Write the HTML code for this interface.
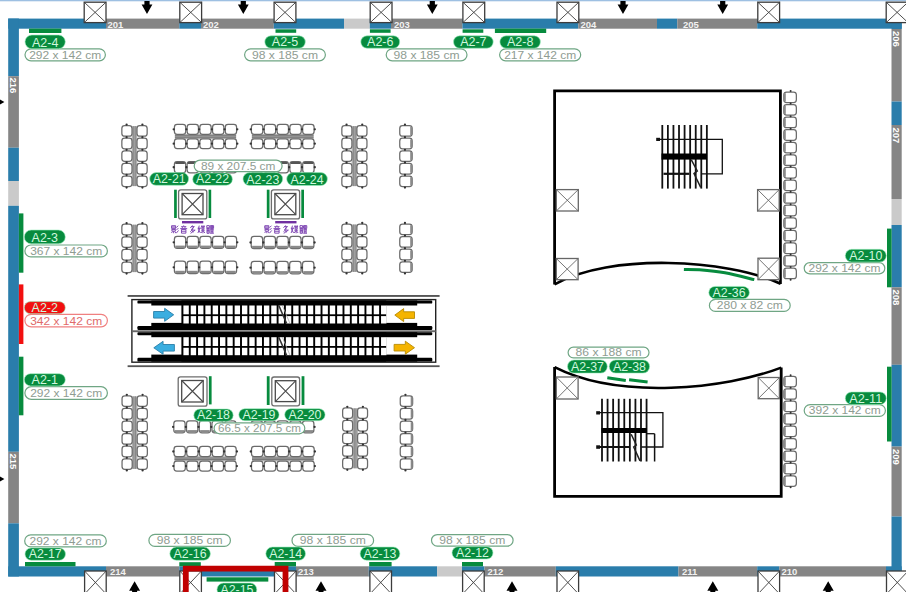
<!DOCTYPE html>
<html><head><meta charset="utf-8"><style>
html,body{margin:0;padding:0;background:#fff;width:906px;height:592px;overflow:hidden}
svg{display:block}
</style></head><body>
<svg width="906" height="592" viewBox="0 0 906 592">
<rect x="0" y="0" width="906" height="592" fill="#fff"/>
<rect x="0" y="0" width="906" height="1.3" fill="#9ec0e2"/>
<rect x="8.20" y="18.60" width="97.80" height="10.10" fill="#2a7dab" />
<rect x="106.00" y="18.60" width="73.30" height="10.10" fill="#858585" />
<rect x="179.30" y="18.60" width="21.70" height="10.10" fill="#2a7dab" />
<rect x="201.00" y="18.60" width="72.80" height="10.10" fill="#858585" />
<rect x="273.80" y="18.60" width="70.20" height="10.10" fill="#2a7dab" />
<rect x="344.00" y="18.60" width="25.80" height="10.10" fill="#cacaca" />
<rect x="369.80" y="18.60" width="21.20" height="10.10" fill="#2a7dab" />
<rect x="391.00" y="18.60" width="71.40" height="10.10" fill="#858585" />
<rect x="462.40" y="18.60" width="115.90" height="10.10" fill="#2a7dab" />
<rect x="578.30" y="18.60" width="78.70" height="10.10" fill="#858585" />
<rect x="657.00" y="18.60" width="20.30" height="10.10" fill="#2a7dab" />
<rect x="677.30" y="18.60" width="79.90" height="10.10" fill="#858585" />
<rect x="757.20" y="18.60" width="144.50" height="10.10" fill="#2a7dab" />
<rect x="8.20" y="566.30" width="97.80" height="10.20" fill="#2a7dab" />
<rect x="106.00" y="566.30" width="73.30" height="10.20" fill="#858585" />
<rect x="179.30" y="566.30" width="116.70" height="10.20" fill="#2a7dab" />
<rect x="296.00" y="566.30" width="72.80" height="10.20" fill="#858585" />
<rect x="368.80" y="566.30" width="68.30" height="10.20" fill="#2a7dab" />
<rect x="437.10" y="566.30" width="24.90" height="10.20" fill="#cacaca" />
<rect x="462.00" y="566.30" width="22.50" height="10.20" fill="#2a7dab" />
<rect x="484.50" y="566.30" width="71.30" height="10.20" fill="#858585" />
<rect x="555.80" y="566.30" width="122.70" height="10.20" fill="#2a7dab" />
<rect x="678.50" y="566.30" width="78.70" height="10.20" fill="#858585" />
<rect x="757.20" y="566.30" width="22.10" height="10.20" fill="#2a7dab" />
<rect x="779.30" y="566.30" width="106.70" height="10.20" fill="#858585" />
<rect x="886.00" y="566.30" width="15.70" height="10.20" fill="#2a7dab" />
<rect x="8.20" y="18.50" width="10.70" height="57.70" fill="#2a7dab" />
<rect x="8.20" y="76.20" width="10.70" height="71.50" fill="#858585" />
<rect x="8.20" y="147.70" width="10.70" height="33.30" fill="#2a7dab" />
<rect x="8.20" y="181.00" width="10.70" height="24.80" fill="#cacaca" />
<rect x="8.20" y="205.80" width="10.70" height="246.00" fill="#2a7dab" />
<rect x="8.20" y="451.80" width="10.70" height="71.50" fill="#858585" />
<rect x="8.20" y="523.30" width="10.70" height="53.20" fill="#2a7dab" />
<rect x="891.50" y="18.50" width="10.20" height="10.50" fill="#2a7dab" />
<rect x="891.50" y="29.00" width="10.20" height="72.50" fill="#858585" />
<rect x="891.50" y="101.50" width="10.20" height="23.50" fill="#2a7dab" />
<rect x="891.50" y="125.00" width="10.20" height="74.00" fill="#858585" />
<rect x="891.50" y="199.00" width="10.20" height="26.00" fill="#cacaca" />
<rect x="891.50" y="225.00" width="10.20" height="62.30" fill="#2a7dab" />
<rect x="891.50" y="287.30" width="10.20" height="77.50" fill="#858585" />
<rect x="891.50" y="364.80" width="10.20" height="81.80" fill="#2a7dab" />
<rect x="891.50" y="446.60" width="10.20" height="69.90" fill="#858585" />
<rect x="891.50" y="516.50" width="10.20" height="60.00" fill="#2a7dab" />
<text x="107.5" y="27.6" font-family='"Liberation Sans", sans-serif' font-weight="bold" font-size="9.5" fill="#f2f2f2">201</text>
<text x="203" y="27.6" font-family='"Liberation Sans", sans-serif' font-weight="bold" font-size="9.5" fill="#f2f2f2">202</text>
<text x="394" y="27.6" font-family='"Liberation Sans", sans-serif' font-weight="bold" font-size="9.5" fill="#f2f2f2">203</text>
<text x="580.5" y="27.6" font-family='"Liberation Sans", sans-serif' font-weight="bold" font-size="9.5" fill="#f2f2f2">204</text>
<text x="683" y="27.6" font-family='"Liberation Sans", sans-serif' font-weight="bold" font-size="9.5" fill="#f2f2f2">205</text>
<text x="110" y="575.3" font-family='"Liberation Sans", sans-serif' font-weight="bold" font-size="9.5" fill="#f2f2f2">214</text>
<text x="298" y="575.3" font-family='"Liberation Sans", sans-serif' font-weight="bold" font-size="9.5" fill="#f2f2f2">213</text>
<text x="487.5" y="575.3" font-family='"Liberation Sans", sans-serif' font-weight="bold" font-size="9.5" fill="#f2f2f2">212</text>
<text x="682" y="575.3" font-family='"Liberation Sans", sans-serif' font-weight="bold" font-size="9.5" fill="#f2f2f2">211</text>
<text x="781.5" y="575.3" font-family='"Liberation Sans", sans-serif' font-weight="bold" font-size="9.5" fill="#f2f2f2">210</text>
<text transform="translate(10.2,77.5) rotate(90)" font-family='"Liberation Sans", sans-serif' font-weight="bold" font-size="9.5" fill="#fff">216</text>
<text transform="translate(10.2,453.5) rotate(90)" font-family='"Liberation Sans", sans-serif' font-weight="bold" font-size="9.5" fill="#fff">215</text>
<text transform="translate(893.2,31) rotate(90)" font-family='"Liberation Sans", sans-serif' font-weight="bold" font-size="9.5" fill="#fff">206</text>
<text transform="translate(893.2,127.5) rotate(90)" font-family='"Liberation Sans", sans-serif' font-weight="bold" font-size="9.5" fill="#fff">207</text>
<text transform="translate(893.2,289.5) rotate(90)" font-family='"Liberation Sans", sans-serif' font-weight="bold" font-size="9.5" fill="#fff">208</text>
<text transform="translate(893.2,449) rotate(90)" font-family='"Liberation Sans", sans-serif' font-weight="bold" font-size="9.5" fill="#fff">209</text>
<rect x="84.20" y="2.20" width="21.80" height="20.40" fill="#fff" stroke="#3c3c3c" stroke-width="1.3"/>
<path d="M84.20 2.20L106.00 22.60M106.00 2.20L84.20 22.60" stroke="#3c3c3c" stroke-width="0.9"/>
<rect x="179.80" y="2.20" width="21.80" height="20.40" fill="#fff" stroke="#3c3c3c" stroke-width="1.3"/>
<path d="M179.80 2.20L201.60 22.60M201.60 2.20L179.80 22.60" stroke="#3c3c3c" stroke-width="0.9"/>
<rect x="274.10" y="2.20" width="21.80" height="20.40" fill="#fff" stroke="#3c3c3c" stroke-width="1.3"/>
<path d="M274.10 2.20L295.90 22.60M295.90 2.20L274.10 22.60" stroke="#3c3c3c" stroke-width="0.9"/>
<rect x="370.20" y="2.20" width="21.80" height="20.40" fill="#fff" stroke="#3c3c3c" stroke-width="1.3"/>
<path d="M370.20 2.20L392.00 22.60M392.00 2.20L370.20 22.60" stroke="#3c3c3c" stroke-width="0.9"/>
<rect x="462.90" y="2.20" width="21.80" height="20.40" fill="#fff" stroke="#3c3c3c" stroke-width="1.3"/>
<path d="M462.90 2.20L484.70 22.60M484.70 2.20L462.90 22.60" stroke="#3c3c3c" stroke-width="0.9"/>
<rect x="557.00" y="2.20" width="21.80" height="20.40" fill="#fff" stroke="#3c3c3c" stroke-width="1.3"/>
<path d="M557.00 2.20L578.80 22.60M578.80 2.20L557.00 22.60" stroke="#3c3c3c" stroke-width="0.9"/>
<rect x="757.80" y="2.20" width="21.80" height="20.40" fill="#fff" stroke="#3c3c3c" stroke-width="1.3"/>
<path d="M757.80 2.20L779.60 22.60M779.60 2.20L757.80 22.60" stroke="#3c3c3c" stroke-width="0.9"/>
<rect x="886.20" y="2.20" width="21.80" height="20.40" fill="#fff" stroke="#3c3c3c" stroke-width="1.3"/>
<path d="M886.20 2.20L908.00 22.60M908.00 2.20L886.20 22.60" stroke="#3c3c3c" stroke-width="0.9"/>
<rect x="84.60" y="571.00" width="21.60" height="23.00" fill="#fff" stroke="#3c3c3c" stroke-width="1.3"/>
<path d="M84.60 571.00L106.20 594.00M106.20 571.00L84.60 594.00" stroke="#3c3c3c" stroke-width="0.9"/>
<rect x="179.80" y="571.00" width="21.60" height="23.00" fill="#fff" stroke="#3c3c3c" stroke-width="1.3"/>
<path d="M179.80 571.00L201.40 594.00M201.40 571.00L179.80 594.00" stroke="#3c3c3c" stroke-width="0.9"/>
<rect x="274.50" y="571.00" width="21.60" height="23.00" fill="#fff" stroke="#3c3c3c" stroke-width="1.3"/>
<path d="M274.50 571.00L296.10 594.00M296.10 571.00L274.50 594.00" stroke="#3c3c3c" stroke-width="0.9"/>
<rect x="369.90" y="571.00" width="21.60" height="23.00" fill="#fff" stroke="#3c3c3c" stroke-width="1.3"/>
<path d="M369.90 571.00L391.50 594.00M391.50 571.00L369.90 594.00" stroke="#3c3c3c" stroke-width="0.9"/>
<rect x="462.60" y="571.00" width="21.60" height="23.00" fill="#fff" stroke="#3c3c3c" stroke-width="1.3"/>
<path d="M462.60 571.00L484.20 594.00M484.20 571.00L462.60 594.00" stroke="#3c3c3c" stroke-width="0.9"/>
<rect x="557.00" y="571.00" width="21.60" height="23.00" fill="#fff" stroke="#3c3c3c" stroke-width="1.3"/>
<path d="M557.00 571.00L578.60 594.00M578.60 571.00L557.00 594.00" stroke="#3c3c3c" stroke-width="0.9"/>
<rect x="758.00" y="571.00" width="21.60" height="23.00" fill="#fff" stroke="#3c3c3c" stroke-width="1.3"/>
<path d="M758.00 571.00L779.60 594.00M779.60 571.00L758.00 594.00" stroke="#3c3c3c" stroke-width="0.9"/>
<rect x="886.50" y="571.00" width="21.60" height="23.00" fill="#fff" stroke="#3c3c3c" stroke-width="1.3"/>
<path d="M886.50 571.00L908.10 594.00M908.10 571.00L886.50 594.00" stroke="#3c3c3c" stroke-width="0.9"/>
<path d="M144.4 1H149.6V4.6H152.4L147 14L141.6 4.6H144.4Z" fill="#000"/>
<path d="M240.70000000000002 1H245.9V4.6H248.70000000000002L243.3 14L237.9 4.6H240.70000000000002Z" fill="#000"/>
<path d="M429.7 1H434.90000000000003V4.6H437.7L432.3 14L426.90000000000003 4.6H429.7Z" fill="#000"/>
<path d="M620.4 1H625.6V4.6H628.4L623 14L617.6 4.6H620.4Z" fill="#000"/>
<path d="M720.1 1H725.3000000000001V4.6H728.1L722.7 14L717.3000000000001 4.6H720.1Z" fill="#000"/>
<path d="M132.1 593H137.1V590.8H140.1L134.6 581.2L129.1 590.8H132.1Z" fill="#000"/>
<path d="M318.5 593H323.5V590.8H326.5L321 581.2L315.5 590.8H318.5Z" fill="#000"/>
<path d="M509.5 593H514.5V590.8H517.5L512 581.2L506.5 590.8H509.5Z" fill="#000"/>
<path d="M710.3 593H715.3V590.8H718.3L712.8 581.2L707.3 590.8H710.3Z" fill="#000"/>
<path d="M825.7 593H830.7V590.8H833.7L828.2 581.2L822.7 590.8H825.7Z" fill="#000"/>
<path d="M-2 100.5H-1V99L4.4 102L-1 105V103.5H-2Z" fill="#000"/>
<path d="M-2 477.5H-1V476L4.4 479L-1 482V480.5H-2Z" fill="#000"/>
<path d="M554.6 284.5V90.8H780.4V284" fill="none" stroke="#000" stroke-width="2.8"/>
<path d="M554.6 284.3C610.3 252.9 726.5 259 780.6 283.8" fill="none" stroke="#000" stroke-width="2.6"/>
<path d="M554.6 367V496.4H781.2V367.6" fill="none" stroke="#000" stroke-width="2.8"/>
<path d="M554.6 367.2C618.9 400 725.4 389 781.2 367.6" fill="none" stroke="#000" stroke-width="2.6"/>
<rect x="556.30" y="189.60" width="22.00" height="21.40" fill="#fff" stroke="#666" stroke-width="1.3"/>
<path d="M556.30 189.60L578.30 211.00M578.30 189.60L556.30 211.00" stroke="#666" stroke-width="0.9"/>
<rect x="556.30" y="258.50" width="21.80" height="21.20" fill="#fff" stroke="#666" stroke-width="1.3"/>
<path d="M556.30 258.50L578.10 279.70M578.10 258.50L556.30 279.70" stroke="#666" stroke-width="0.9"/>
<rect x="757.60" y="189.60" width="21.60" height="21.40" fill="#fff" stroke="#666" stroke-width="1.3"/>
<path d="M757.60 189.60L779.20 211.00M779.20 189.60L757.60 211.00" stroke="#666" stroke-width="0.9"/>
<rect x="758.00" y="258.20" width="21.40" height="21.50" fill="#fff" stroke="#666" stroke-width="1.3"/>
<path d="M758.00 258.20L779.40 279.70M779.40 258.20L758.00 279.70" stroke="#666" stroke-width="0.9"/>
<rect x="556.30" y="377.00" width="21.80" height="22.00" fill="#fff" stroke="#666" stroke-width="1.3"/>
<path d="M556.30 377.00L578.10 399.00M578.10 377.00L556.30 399.00" stroke="#666" stroke-width="0.9"/>
<rect x="758.20" y="377.50" width="21.20" height="21.20" fill="#fff" stroke="#666" stroke-width="1.3"/>
<path d="M758.20 377.50L779.40 398.70M779.40 377.50L758.20 398.70" stroke="#666" stroke-width="0.9"/>
<line x1="662.30" y1="125" x2="662.30" y2="188.6" stroke="#111" stroke-width="1.8"/>
<line x1="667.87" y1="125" x2="667.87" y2="188.6" stroke="#111" stroke-width="1.8"/>
<line x1="673.44" y1="125" x2="673.44" y2="188.6" stroke="#111" stroke-width="1.8"/>
<line x1="679.01" y1="125" x2="679.01" y2="188.6" stroke="#111" stroke-width="1.8"/>
<line x1="684.58" y1="125" x2="684.58" y2="188.6" stroke="#111" stroke-width="1.8"/>
<line x1="690.15" y1="125" x2="690.15" y2="188.6" stroke="#111" stroke-width="1.8"/>
<line x1="695.72" y1="125" x2="695.72" y2="188.6" stroke="#111" stroke-width="1.8"/>
<line x1="701.29" y1="125" x2="701.29" y2="188.6" stroke="#111" stroke-width="1.8"/>
<line x1="706.86" y1="125" x2="706.86" y2="188.6" stroke="#111" stroke-width="1.8"/>
<path d="M657 139.3H722.3V173.8H701.4" fill="none" stroke="#111" stroke-width="1.3"/>
<rect x="656.20" y="137.80" width="3.80" height="3.20" fill="#111" />
<rect x="661.50" y="153.50" width="45.50" height="6.10" fill="#000" />
<path d="M663.5 173.8H689.3" stroke="#111" stroke-width="2.2"/>
<path d="M691.2 159.6L697.3 171L694 173.5L700.7 187.3" fill="none" stroke="#222" stroke-width="1.5"/>
<line x1="602.00" y1="398.8" x2="602.00" y2="461.5" stroke="#111" stroke-width="1.8"/>
<line x1="607.57" y1="398.8" x2="607.57" y2="461.5" stroke="#111" stroke-width="1.8"/>
<line x1="613.14" y1="398.8" x2="613.14" y2="461.5" stroke="#111" stroke-width="1.8"/>
<line x1="618.71" y1="398.8" x2="618.71" y2="461.5" stroke="#111" stroke-width="1.8"/>
<line x1="624.28" y1="398.8" x2="624.28" y2="461.5" stroke="#111" stroke-width="1.8"/>
<line x1="629.85" y1="398.8" x2="629.85" y2="461.5" stroke="#111" stroke-width="1.8"/>
<line x1="635.42" y1="398.8" x2="635.42" y2="461.5" stroke="#111" stroke-width="1.8"/>
<line x1="640.99" y1="398.8" x2="640.99" y2="461.5" stroke="#111" stroke-width="1.8"/>
<line x1="646.56" y1="398.8" x2="646.56" y2="461.5" stroke="#111" stroke-width="1.8"/>
<line x1="654.6" y1="433.7" x2="654.6" y2="461.5" stroke="#111" stroke-width="1.5"/>
<path d="M597 412.7H662.9V447H641.3" fill="none" stroke="#111" stroke-width="1.3"/>
<path d="M646 433.7H654.6" stroke="#111" stroke-width="1.3"/>
<rect x="596.20" y="411.20" width="3.80" height="3.30" fill="#111" />
<rect x="601.50" y="428.00" width="45.30" height="5.00" fill="#000" />
<path d="M597 447H629.3" stroke="#111" stroke-width="2.2"/>
<rect x="596.20" y="445.30" width="3.80" height="3.50" fill="#111" />
<path d="M631.2 434.3L636.3 445L633.7 447L640 460.9" fill="none" stroke="#222" stroke-width="1.5"/>
<rect x="131.70" y="126.10" width="5.60" height="60.00" fill="#b0b0b0" />
<path d="M133.70 126.10V186.10M135.30 126.10V186.10" stroke="#777" stroke-width="0.7"/>
<rect x="121.85" y="125.60" width="10.15" height="10.60" rx="2.8" fill="#fff" stroke="#6a6a6a" stroke-width="1.25"/>
<rect x="137.00" y="125.60" width="10.15" height="10.60" rx="2.8" fill="#fff" stroke="#6a6a6a" stroke-width="1.25"/>
<rect x="121.85" y="138.20" width="10.15" height="10.60" rx="2.8" fill="#fff" stroke="#6a6a6a" stroke-width="1.25"/>
<rect x="137.00" y="138.20" width="10.15" height="10.60" rx="2.8" fill="#fff" stroke="#6a6a6a" stroke-width="1.25"/>
<rect x="121.85" y="150.80" width="10.15" height="10.60" rx="2.8" fill="#fff" stroke="#6a6a6a" stroke-width="1.25"/>
<rect x="137.00" y="150.80" width="10.15" height="10.60" rx="2.8" fill="#fff" stroke="#6a6a6a" stroke-width="1.25"/>
<rect x="121.85" y="163.40" width="10.15" height="10.60" rx="2.8" fill="#fff" stroke="#6a6a6a" stroke-width="1.25"/>
<rect x="137.00" y="163.40" width="10.15" height="10.60" rx="2.8" fill="#fff" stroke="#6a6a6a" stroke-width="1.25"/>
<rect x="121.85" y="176.00" width="10.15" height="10.60" rx="2.8" fill="#fff" stroke="#6a6a6a" stroke-width="1.25"/>
<rect x="137.00" y="176.00" width="10.15" height="10.60" rx="2.8" fill="#fff" stroke="#6a6a6a" stroke-width="1.25"/>
<circle cx="126.60" cy="124.60" r="1.15" fill="#333"/>
<circle cx="142.40" cy="124.60" r="1.15" fill="#333"/>
<circle cx="126.60" cy="137.20" r="1.15" fill="#333"/>
<circle cx="142.40" cy="137.20" r="1.15" fill="#333"/>
<circle cx="126.60" cy="149.80" r="1.15" fill="#333"/>
<circle cx="142.40" cy="149.80" r="1.15" fill="#333"/>
<circle cx="126.60" cy="162.40" r="1.15" fill="#333"/>
<circle cx="142.40" cy="162.40" r="1.15" fill="#333"/>
<circle cx="126.60" cy="175.00" r="1.15" fill="#333"/>
<circle cx="142.40" cy="175.00" r="1.15" fill="#333"/>
<circle cx="126.60" cy="187.60" r="1.15" fill="#333"/>
<circle cx="142.40" cy="187.60" r="1.15" fill="#333"/>
<rect x="174.90" y="133.95" width="61.20" height="5.10" fill="#b0b0b0" />
<path d="M174.90 135.75H236.10M174.90 137.25H236.10" stroke="#666" stroke-width="0.8"/>
<rect x="174.40" y="124.35" width="11.32" height="9.90" rx="2.8" fill="#fff" stroke="#6a6a6a" stroke-width="1.25"/>
<rect x="174.40" y="138.75" width="11.32" height="9.90" rx="2.8" fill="#fff" stroke="#6a6a6a" stroke-width="1.25"/>
<rect x="187.12" y="124.35" width="11.32" height="9.90" rx="2.8" fill="#fff" stroke="#6a6a6a" stroke-width="1.25"/>
<rect x="187.12" y="138.75" width="11.32" height="9.90" rx="2.8" fill="#fff" stroke="#6a6a6a" stroke-width="1.25"/>
<rect x="199.84" y="124.35" width="11.32" height="9.90" rx="2.8" fill="#fff" stroke="#6a6a6a" stroke-width="1.25"/>
<rect x="199.84" y="138.75" width="11.32" height="9.90" rx="2.8" fill="#fff" stroke="#6a6a6a" stroke-width="1.25"/>
<rect x="212.56" y="124.35" width="11.32" height="9.90" rx="2.8" fill="#fff" stroke="#6a6a6a" stroke-width="1.25"/>
<rect x="212.56" y="138.75" width="11.32" height="9.90" rx="2.8" fill="#fff" stroke="#6a6a6a" stroke-width="1.25"/>
<rect x="225.28" y="124.35" width="11.32" height="9.90" rx="2.8" fill="#fff" stroke="#6a6a6a" stroke-width="1.25"/>
<rect x="225.28" y="138.75" width="11.32" height="9.90" rx="2.8" fill="#fff" stroke="#6a6a6a" stroke-width="1.25"/>
<circle cx="173.70" cy="129.28" r="1.15" fill="#333"/>
<circle cx="173.70" cy="143.72" r="1.15" fill="#333"/>
<circle cx="186.42" cy="129.28" r="1.15" fill="#333"/>
<circle cx="186.42" cy="143.72" r="1.15" fill="#333"/>
<circle cx="199.14" cy="129.28" r="1.15" fill="#333"/>
<circle cx="199.14" cy="143.72" r="1.15" fill="#333"/>
<circle cx="211.86" cy="129.28" r="1.15" fill="#333"/>
<circle cx="211.86" cy="143.72" r="1.15" fill="#333"/>
<circle cx="224.58" cy="129.28" r="1.15" fill="#333"/>
<circle cx="224.58" cy="143.72" r="1.15" fill="#333"/>
<circle cx="237.30" cy="129.28" r="1.15" fill="#333"/>
<circle cx="237.30" cy="143.72" r="1.15" fill="#333"/>
<rect x="251.90" y="133.95" width="61.70" height="5.10" fill="#b0b0b0" />
<path d="M251.90 135.75H313.60M251.90 137.25H313.60" stroke="#666" stroke-width="0.8"/>
<rect x="251.40" y="124.35" width="11.42" height="9.90" rx="2.8" fill="#fff" stroke="#6a6a6a" stroke-width="1.25"/>
<rect x="251.40" y="138.75" width="11.42" height="9.90" rx="2.8" fill="#fff" stroke="#6a6a6a" stroke-width="1.25"/>
<rect x="264.22" y="124.35" width="11.42" height="9.90" rx="2.8" fill="#fff" stroke="#6a6a6a" stroke-width="1.25"/>
<rect x="264.22" y="138.75" width="11.42" height="9.90" rx="2.8" fill="#fff" stroke="#6a6a6a" stroke-width="1.25"/>
<rect x="277.04" y="124.35" width="11.42" height="9.90" rx="2.8" fill="#fff" stroke="#6a6a6a" stroke-width="1.25"/>
<rect x="277.04" y="138.75" width="11.42" height="9.90" rx="2.8" fill="#fff" stroke="#6a6a6a" stroke-width="1.25"/>
<rect x="289.86" y="124.35" width="11.42" height="9.90" rx="2.8" fill="#fff" stroke="#6a6a6a" stroke-width="1.25"/>
<rect x="289.86" y="138.75" width="11.42" height="9.90" rx="2.8" fill="#fff" stroke="#6a6a6a" stroke-width="1.25"/>
<rect x="302.68" y="124.35" width="11.42" height="9.90" rx="2.8" fill="#fff" stroke="#6a6a6a" stroke-width="1.25"/>
<rect x="302.68" y="138.75" width="11.42" height="9.90" rx="2.8" fill="#fff" stroke="#6a6a6a" stroke-width="1.25"/>
<circle cx="250.70" cy="129.28" r="1.15" fill="#333"/>
<circle cx="250.70" cy="143.72" r="1.15" fill="#333"/>
<circle cx="263.52" cy="129.28" r="1.15" fill="#333"/>
<circle cx="263.52" cy="143.72" r="1.15" fill="#333"/>
<circle cx="276.34" cy="129.28" r="1.15" fill="#333"/>
<circle cx="276.34" cy="143.72" r="1.15" fill="#333"/>
<circle cx="289.16" cy="129.28" r="1.15" fill="#333"/>
<circle cx="289.16" cy="143.72" r="1.15" fill="#333"/>
<circle cx="301.98" cy="129.28" r="1.15" fill="#333"/>
<circle cx="301.98" cy="143.72" r="1.15" fill="#333"/>
<circle cx="314.80" cy="129.28" r="1.15" fill="#333"/>
<circle cx="314.80" cy="143.72" r="1.15" fill="#333"/>
<rect x="174.40" y="161.65" width="11.32" height="11.20" rx="2.8" fill="#fff" stroke="#6a6a6a" stroke-width="1.25"/>
<rect x="175.30" y="161.80" width="9.52" height="2.20" fill="#555" />
<rect x="187.12" y="161.65" width="11.32" height="11.20" rx="2.8" fill="#fff" stroke="#6a6a6a" stroke-width="1.25"/>
<rect x="188.02" y="161.80" width="9.52" height="2.20" fill="#555" />
<rect x="199.84" y="161.65" width="11.32" height="11.20" rx="2.8" fill="#fff" stroke="#6a6a6a" stroke-width="1.25"/>
<rect x="200.74" y="161.80" width="9.52" height="2.20" fill="#555" />
<rect x="212.56" y="161.65" width="11.32" height="11.20" rx="2.8" fill="#fff" stroke="#6a6a6a" stroke-width="1.25"/>
<rect x="213.46" y="161.80" width="9.52" height="2.20" fill="#555" />
<rect x="225.28" y="161.65" width="11.32" height="11.20" rx="2.8" fill="#fff" stroke="#6a6a6a" stroke-width="1.25"/>
<rect x="226.18" y="161.80" width="9.52" height="2.20" fill="#555" />
<circle cx="173.70" cy="167.25" r="1.15" fill="#333"/>
<circle cx="186.42" cy="167.25" r="1.15" fill="#333"/>
<circle cx="199.14" cy="167.25" r="1.15" fill="#333"/>
<circle cx="211.86" cy="167.25" r="1.15" fill="#333"/>
<circle cx="224.58" cy="167.25" r="1.15" fill="#333"/>
<circle cx="237.30" cy="167.25" r="1.15" fill="#333"/>
<rect x="251.40" y="161.65" width="11.42" height="11.20" rx="2.8" fill="#fff" stroke="#6a6a6a" stroke-width="1.25"/>
<rect x="252.30" y="161.80" width="9.62" height="2.20" fill="#555" />
<rect x="264.22" y="161.65" width="11.42" height="11.20" rx="2.8" fill="#fff" stroke="#6a6a6a" stroke-width="1.25"/>
<rect x="265.12" y="161.80" width="9.62" height="2.20" fill="#555" />
<rect x="277.04" y="161.65" width="11.42" height="11.20" rx="2.8" fill="#fff" stroke="#6a6a6a" stroke-width="1.25"/>
<rect x="277.94" y="161.80" width="9.62" height="2.20" fill="#555" />
<rect x="289.86" y="161.65" width="11.42" height="11.20" rx="2.8" fill="#fff" stroke="#6a6a6a" stroke-width="1.25"/>
<rect x="290.76" y="161.80" width="9.62" height="2.20" fill="#555" />
<rect x="302.68" y="161.65" width="11.42" height="11.20" rx="2.8" fill="#fff" stroke="#6a6a6a" stroke-width="1.25"/>
<rect x="303.58" y="161.80" width="9.62" height="2.20" fill="#555" />
<circle cx="250.70" cy="167.25" r="1.15" fill="#333"/>
<circle cx="263.52" cy="167.25" r="1.15" fill="#333"/>
<circle cx="276.34" cy="167.25" r="1.15" fill="#333"/>
<circle cx="289.16" cy="167.25" r="1.15" fill="#333"/>
<circle cx="301.98" cy="167.25" r="1.15" fill="#333"/>
<circle cx="314.80" cy="167.25" r="1.15" fill="#333"/>
<rect x="351.60" y="126.10" width="5.60" height="60.00" fill="#b0b0b0" />
<path d="M353.60 126.10V186.10M355.20 126.10V186.10" stroke="#777" stroke-width="0.7"/>
<rect x="341.85" y="125.60" width="10.05" height="10.60" rx="2.8" fill="#fff" stroke="#6a6a6a" stroke-width="1.25"/>
<rect x="356.90" y="125.60" width="10.05" height="10.60" rx="2.8" fill="#fff" stroke="#6a6a6a" stroke-width="1.25"/>
<rect x="341.85" y="138.20" width="10.05" height="10.60" rx="2.8" fill="#fff" stroke="#6a6a6a" stroke-width="1.25"/>
<rect x="356.90" y="138.20" width="10.05" height="10.60" rx="2.8" fill="#fff" stroke="#6a6a6a" stroke-width="1.25"/>
<rect x="341.85" y="150.80" width="10.05" height="10.60" rx="2.8" fill="#fff" stroke="#6a6a6a" stroke-width="1.25"/>
<rect x="356.90" y="150.80" width="10.05" height="10.60" rx="2.8" fill="#fff" stroke="#6a6a6a" stroke-width="1.25"/>
<rect x="341.85" y="163.40" width="10.05" height="10.60" rx="2.8" fill="#fff" stroke="#6a6a6a" stroke-width="1.25"/>
<rect x="356.90" y="163.40" width="10.05" height="10.60" rx="2.8" fill="#fff" stroke="#6a6a6a" stroke-width="1.25"/>
<rect x="341.85" y="176.00" width="10.05" height="10.60" rx="2.8" fill="#fff" stroke="#6a6a6a" stroke-width="1.25"/>
<rect x="356.90" y="176.00" width="10.05" height="10.60" rx="2.8" fill="#fff" stroke="#6a6a6a" stroke-width="1.25"/>
<circle cx="346.55" cy="124.60" r="1.15" fill="#333"/>
<circle cx="362.25" cy="124.60" r="1.15" fill="#333"/>
<circle cx="346.55" cy="137.20" r="1.15" fill="#333"/>
<circle cx="362.25" cy="137.20" r="1.15" fill="#333"/>
<circle cx="346.55" cy="149.80" r="1.15" fill="#333"/>
<circle cx="362.25" cy="149.80" r="1.15" fill="#333"/>
<circle cx="346.55" cy="162.40" r="1.15" fill="#333"/>
<circle cx="362.25" cy="162.40" r="1.15" fill="#333"/>
<circle cx="346.55" cy="175.00" r="1.15" fill="#333"/>
<circle cx="362.25" cy="175.00" r="1.15" fill="#333"/>
<circle cx="346.55" cy="187.60" r="1.15" fill="#333"/>
<circle cx="362.25" cy="187.60" r="1.15" fill="#333"/>
<rect x="399.75" y="125.60" width="12.40" height="10.60" rx="2.8" fill="#fff" stroke="#6a6a6a" stroke-width="1.25"/>
<rect x="410.20" y="126.80" width="2.00" height="8.20" fill="#8a8a8a" />
<rect x="399.75" y="138.20" width="12.40" height="10.60" rx="2.8" fill="#fff" stroke="#6a6a6a" stroke-width="1.25"/>
<rect x="410.20" y="139.40" width="2.00" height="8.20" fill="#8a8a8a" />
<rect x="399.75" y="150.80" width="12.40" height="10.60" rx="2.8" fill="#fff" stroke="#6a6a6a" stroke-width="1.25"/>
<rect x="410.20" y="152.00" width="2.00" height="8.20" fill="#8a8a8a" />
<rect x="399.75" y="163.40" width="12.40" height="10.60" rx="2.8" fill="#fff" stroke="#6a6a6a" stroke-width="1.25"/>
<rect x="410.20" y="164.60" width="2.00" height="8.20" fill="#8a8a8a" />
<rect x="399.75" y="176.00" width="12.40" height="10.60" rx="2.8" fill="#fff" stroke="#6a6a6a" stroke-width="1.25"/>
<rect x="410.20" y="177.20" width="2.00" height="8.20" fill="#8a8a8a" />
<circle cx="404.95" cy="124.60" r="1.15" fill="#333"/>
<circle cx="404.95" cy="137.20" r="1.15" fill="#333"/>
<circle cx="404.95" cy="149.80" r="1.15" fill="#333"/>
<circle cx="404.95" cy="162.40" r="1.15" fill="#333"/>
<circle cx="404.95" cy="175.00" r="1.15" fill="#333"/>
<circle cx="404.95" cy="187.60" r="1.15" fill="#333"/>
<rect x="131.70" y="224.70" width="5.60" height="47.40" fill="#b0b0b0" />
<path d="M133.70 224.70V272.10M135.30 224.70V272.10" stroke="#777" stroke-width="0.7"/>
<rect x="121.85" y="224.20" width="10.15" height="10.60" rx="2.8" fill="#fff" stroke="#6a6a6a" stroke-width="1.25"/>
<rect x="137.00" y="224.20" width="10.15" height="10.60" rx="2.8" fill="#fff" stroke="#6a6a6a" stroke-width="1.25"/>
<rect x="121.85" y="236.80" width="10.15" height="10.60" rx="2.8" fill="#fff" stroke="#6a6a6a" stroke-width="1.25"/>
<rect x="137.00" y="236.80" width="10.15" height="10.60" rx="2.8" fill="#fff" stroke="#6a6a6a" stroke-width="1.25"/>
<rect x="121.85" y="249.40" width="10.15" height="10.60" rx="2.8" fill="#fff" stroke="#6a6a6a" stroke-width="1.25"/>
<rect x="137.00" y="249.40" width="10.15" height="10.60" rx="2.8" fill="#fff" stroke="#6a6a6a" stroke-width="1.25"/>
<rect x="121.85" y="262.00" width="10.15" height="10.60" rx="2.8" fill="#fff" stroke="#6a6a6a" stroke-width="1.25"/>
<rect x="137.00" y="262.00" width="10.15" height="10.60" rx="2.8" fill="#fff" stroke="#6a6a6a" stroke-width="1.25"/>
<circle cx="126.60" cy="223.20" r="1.15" fill="#333"/>
<circle cx="142.40" cy="223.20" r="1.15" fill="#333"/>
<circle cx="126.60" cy="235.80" r="1.15" fill="#333"/>
<circle cx="142.40" cy="235.80" r="1.15" fill="#333"/>
<circle cx="126.60" cy="248.40" r="1.15" fill="#333"/>
<circle cx="142.40" cy="248.40" r="1.15" fill="#333"/>
<circle cx="126.60" cy="261.00" r="1.15" fill="#333"/>
<circle cx="142.40" cy="261.00" r="1.15" fill="#333"/>
<circle cx="126.60" cy="273.60" r="1.15" fill="#333"/>
<circle cx="142.40" cy="273.60" r="1.15" fill="#333"/>
<rect x="174.40" y="236.35" width="11.32" height="12.00" rx="2.8" fill="#fff" stroke="#6a6a6a" stroke-width="1.25"/>
<rect x="175.30" y="245.60" width="9.52" height="2.40" fill="#8a8a8a" />
<rect x="187.12" y="236.35" width="11.32" height="12.00" rx="2.8" fill="#fff" stroke="#6a6a6a" stroke-width="1.25"/>
<rect x="188.02" y="245.60" width="9.52" height="2.40" fill="#8a8a8a" />
<rect x="199.84" y="236.35" width="11.32" height="12.00" rx="2.8" fill="#fff" stroke="#6a6a6a" stroke-width="1.25"/>
<rect x="200.74" y="245.60" width="9.52" height="2.40" fill="#8a8a8a" />
<rect x="212.56" y="236.35" width="11.32" height="12.00" rx="2.8" fill="#fff" stroke="#6a6a6a" stroke-width="1.25"/>
<rect x="213.46" y="245.60" width="9.52" height="2.40" fill="#8a8a8a" />
<rect x="225.28" y="236.35" width="11.32" height="12.00" rx="2.8" fill="#fff" stroke="#6a6a6a" stroke-width="1.25"/>
<rect x="226.18" y="245.60" width="9.52" height="2.40" fill="#8a8a8a" />
<circle cx="173.70" cy="242.35" r="1.15" fill="#333"/>
<circle cx="186.42" cy="242.35" r="1.15" fill="#333"/>
<circle cx="199.14" cy="242.35" r="1.15" fill="#333"/>
<circle cx="211.86" cy="242.35" r="1.15" fill="#333"/>
<circle cx="224.58" cy="242.35" r="1.15" fill="#333"/>
<circle cx="237.30" cy="242.35" r="1.15" fill="#333"/>
<rect x="174.40" y="261.15" width="11.32" height="12.40" rx="2.8" fill="#fff" stroke="#6a6a6a" stroke-width="1.25"/>
<rect x="175.30" y="270.80" width="9.52" height="2.40" fill="#8a8a8a" />
<rect x="187.12" y="261.15" width="11.32" height="12.40" rx="2.8" fill="#fff" stroke="#6a6a6a" stroke-width="1.25"/>
<rect x="188.02" y="270.80" width="9.52" height="2.40" fill="#8a8a8a" />
<rect x="199.84" y="261.15" width="11.32" height="12.40" rx="2.8" fill="#fff" stroke="#6a6a6a" stroke-width="1.25"/>
<rect x="200.74" y="270.80" width="9.52" height="2.40" fill="#8a8a8a" />
<rect x="212.56" y="261.15" width="11.32" height="12.40" rx="2.8" fill="#fff" stroke="#6a6a6a" stroke-width="1.25"/>
<rect x="213.46" y="270.80" width="9.52" height="2.40" fill="#8a8a8a" />
<rect x="225.28" y="261.15" width="11.32" height="12.40" rx="2.8" fill="#fff" stroke="#6a6a6a" stroke-width="1.25"/>
<rect x="226.18" y="270.80" width="9.52" height="2.40" fill="#8a8a8a" />
<circle cx="173.70" cy="267.35" r="1.15" fill="#333"/>
<circle cx="186.42" cy="267.35" r="1.15" fill="#333"/>
<circle cx="199.14" cy="267.35" r="1.15" fill="#333"/>
<circle cx="211.86" cy="267.35" r="1.15" fill="#333"/>
<circle cx="224.58" cy="267.35" r="1.15" fill="#333"/>
<circle cx="237.30" cy="267.35" r="1.15" fill="#333"/>
<rect x="251.20" y="236.45" width="11.42" height="12.10" rx="2.8" fill="#fff" stroke="#6a6a6a" stroke-width="1.25"/>
<rect x="252.10" y="245.80" width="9.62" height="2.40" fill="#8a8a8a" />
<rect x="264.02" y="236.45" width="11.42" height="12.10" rx="2.8" fill="#fff" stroke="#6a6a6a" stroke-width="1.25"/>
<rect x="264.92" y="245.80" width="9.62" height="2.40" fill="#8a8a8a" />
<rect x="276.84" y="236.45" width="11.42" height="12.10" rx="2.8" fill="#fff" stroke="#6a6a6a" stroke-width="1.25"/>
<rect x="277.74" y="245.80" width="9.62" height="2.40" fill="#8a8a8a" />
<rect x="289.66" y="236.45" width="11.42" height="12.10" rx="2.8" fill="#fff" stroke="#6a6a6a" stroke-width="1.25"/>
<rect x="290.56" y="245.80" width="9.62" height="2.40" fill="#8a8a8a" />
<rect x="302.48" y="236.45" width="11.42" height="12.10" rx="2.8" fill="#fff" stroke="#6a6a6a" stroke-width="1.25"/>
<rect x="303.38" y="245.80" width="9.62" height="2.40" fill="#8a8a8a" />
<circle cx="250.50" cy="242.50" r="1.15" fill="#333"/>
<circle cx="263.32" cy="242.50" r="1.15" fill="#333"/>
<circle cx="276.14" cy="242.50" r="1.15" fill="#333"/>
<circle cx="288.96" cy="242.50" r="1.15" fill="#333"/>
<circle cx="301.78" cy="242.50" r="1.15" fill="#333"/>
<circle cx="314.60" cy="242.50" r="1.15" fill="#333"/>
<rect x="251.20" y="261.45" width="11.42" height="12.40" rx="2.8" fill="#fff" stroke="#6a6a6a" stroke-width="1.25"/>
<rect x="252.10" y="271.10" width="9.62" height="2.40" fill="#8a8a8a" />
<rect x="264.02" y="261.45" width="11.42" height="12.40" rx="2.8" fill="#fff" stroke="#6a6a6a" stroke-width="1.25"/>
<rect x="264.92" y="271.10" width="9.62" height="2.40" fill="#8a8a8a" />
<rect x="276.84" y="261.45" width="11.42" height="12.40" rx="2.8" fill="#fff" stroke="#6a6a6a" stroke-width="1.25"/>
<rect x="277.74" y="271.10" width="9.62" height="2.40" fill="#8a8a8a" />
<rect x="289.66" y="261.45" width="11.42" height="12.40" rx="2.8" fill="#fff" stroke="#6a6a6a" stroke-width="1.25"/>
<rect x="290.56" y="271.10" width="9.62" height="2.40" fill="#8a8a8a" />
<rect x="302.48" y="261.45" width="11.42" height="12.40" rx="2.8" fill="#fff" stroke="#6a6a6a" stroke-width="1.25"/>
<rect x="303.38" y="271.10" width="9.62" height="2.40" fill="#8a8a8a" />
<circle cx="250.50" cy="267.65" r="1.15" fill="#333"/>
<circle cx="263.32" cy="267.65" r="1.15" fill="#333"/>
<circle cx="276.14" cy="267.65" r="1.15" fill="#333"/>
<circle cx="288.96" cy="267.65" r="1.15" fill="#333"/>
<circle cx="301.78" cy="267.65" r="1.15" fill="#333"/>
<circle cx="314.60" cy="267.65" r="1.15" fill="#333"/>
<rect x="351.60" y="224.50" width="5.60" height="47.40" fill="#b0b0b0" />
<path d="M353.60 224.50V271.90M355.20 224.50V271.90" stroke="#777" stroke-width="0.7"/>
<rect x="341.85" y="224.00" width="10.05" height="10.60" rx="2.8" fill="#fff" stroke="#6a6a6a" stroke-width="1.25"/>
<rect x="356.90" y="224.00" width="10.05" height="10.60" rx="2.8" fill="#fff" stroke="#6a6a6a" stroke-width="1.25"/>
<rect x="341.85" y="236.60" width="10.05" height="10.60" rx="2.8" fill="#fff" stroke="#6a6a6a" stroke-width="1.25"/>
<rect x="356.90" y="236.60" width="10.05" height="10.60" rx="2.8" fill="#fff" stroke="#6a6a6a" stroke-width="1.25"/>
<rect x="341.85" y="249.20" width="10.05" height="10.60" rx="2.8" fill="#fff" stroke="#6a6a6a" stroke-width="1.25"/>
<rect x="356.90" y="249.20" width="10.05" height="10.60" rx="2.8" fill="#fff" stroke="#6a6a6a" stroke-width="1.25"/>
<rect x="341.85" y="261.80" width="10.05" height="10.60" rx="2.8" fill="#fff" stroke="#6a6a6a" stroke-width="1.25"/>
<rect x="356.90" y="261.80" width="10.05" height="10.60" rx="2.8" fill="#fff" stroke="#6a6a6a" stroke-width="1.25"/>
<circle cx="346.55" cy="223.00" r="1.15" fill="#333"/>
<circle cx="362.25" cy="223.00" r="1.15" fill="#333"/>
<circle cx="346.55" cy="235.60" r="1.15" fill="#333"/>
<circle cx="362.25" cy="235.60" r="1.15" fill="#333"/>
<circle cx="346.55" cy="248.20" r="1.15" fill="#333"/>
<circle cx="362.25" cy="248.20" r="1.15" fill="#333"/>
<circle cx="346.55" cy="260.80" r="1.15" fill="#333"/>
<circle cx="362.25" cy="260.80" r="1.15" fill="#333"/>
<circle cx="346.55" cy="273.40" r="1.15" fill="#333"/>
<circle cx="362.25" cy="273.40" r="1.15" fill="#333"/>
<rect x="399.75" y="224.00" width="12.40" height="10.60" rx="2.8" fill="#fff" stroke="#6a6a6a" stroke-width="1.25"/>
<rect x="410.20" y="225.20" width="2.00" height="8.20" fill="#8a8a8a" />
<rect x="399.75" y="236.60" width="12.40" height="10.60" rx="2.8" fill="#fff" stroke="#6a6a6a" stroke-width="1.25"/>
<rect x="410.20" y="237.80" width="2.00" height="8.20" fill="#8a8a8a" />
<rect x="399.75" y="249.20" width="12.40" height="10.60" rx="2.8" fill="#fff" stroke="#6a6a6a" stroke-width="1.25"/>
<rect x="410.20" y="250.40" width="2.00" height="8.20" fill="#8a8a8a" />
<rect x="399.75" y="261.80" width="12.40" height="10.60" rx="2.8" fill="#fff" stroke="#6a6a6a" stroke-width="1.25"/>
<rect x="410.20" y="263.00" width="2.00" height="8.20" fill="#8a8a8a" />
<circle cx="404.95" cy="223.00" r="1.15" fill="#333"/>
<circle cx="404.95" cy="235.60" r="1.15" fill="#333"/>
<circle cx="404.95" cy="248.20" r="1.15" fill="#333"/>
<circle cx="404.95" cy="260.80" r="1.15" fill="#333"/>
<circle cx="404.95" cy="273.40" r="1.15" fill="#333"/>
<rect x="131.90" y="396.30" width="5.60" height="72.60" fill="#b0b0b0" />
<path d="M133.90 396.30V468.90M135.50 396.30V468.90" stroke="#777" stroke-width="0.7"/>
<rect x="122.05" y="395.80" width="10.15" height="10.60" rx="2.8" fill="#fff" stroke="#6a6a6a" stroke-width="1.25"/>
<rect x="137.20" y="395.80" width="10.15" height="10.60" rx="2.8" fill="#fff" stroke="#6a6a6a" stroke-width="1.25"/>
<rect x="122.05" y="408.40" width="10.15" height="10.60" rx="2.8" fill="#fff" stroke="#6a6a6a" stroke-width="1.25"/>
<rect x="137.20" y="408.40" width="10.15" height="10.60" rx="2.8" fill="#fff" stroke="#6a6a6a" stroke-width="1.25"/>
<rect x="122.05" y="421.00" width="10.15" height="10.60" rx="2.8" fill="#fff" stroke="#6a6a6a" stroke-width="1.25"/>
<rect x="137.20" y="421.00" width="10.15" height="10.60" rx="2.8" fill="#fff" stroke="#6a6a6a" stroke-width="1.25"/>
<rect x="122.05" y="433.60" width="10.15" height="10.60" rx="2.8" fill="#fff" stroke="#6a6a6a" stroke-width="1.25"/>
<rect x="137.20" y="433.60" width="10.15" height="10.60" rx="2.8" fill="#fff" stroke="#6a6a6a" stroke-width="1.25"/>
<rect x="122.05" y="446.20" width="10.15" height="10.60" rx="2.8" fill="#fff" stroke="#6a6a6a" stroke-width="1.25"/>
<rect x="137.20" y="446.20" width="10.15" height="10.60" rx="2.8" fill="#fff" stroke="#6a6a6a" stroke-width="1.25"/>
<rect x="122.05" y="458.80" width="10.15" height="10.60" rx="2.8" fill="#fff" stroke="#6a6a6a" stroke-width="1.25"/>
<rect x="137.20" y="458.80" width="10.15" height="10.60" rx="2.8" fill="#fff" stroke="#6a6a6a" stroke-width="1.25"/>
<circle cx="126.80" cy="394.80" r="1.15" fill="#333"/>
<circle cx="142.60" cy="394.80" r="1.15" fill="#333"/>
<circle cx="126.80" cy="407.40" r="1.15" fill="#333"/>
<circle cx="142.60" cy="407.40" r="1.15" fill="#333"/>
<circle cx="126.80" cy="420.00" r="1.15" fill="#333"/>
<circle cx="142.60" cy="420.00" r="1.15" fill="#333"/>
<circle cx="126.80" cy="432.60" r="1.15" fill="#333"/>
<circle cx="142.60" cy="432.60" r="1.15" fill="#333"/>
<circle cx="126.80" cy="445.20" r="1.15" fill="#333"/>
<circle cx="142.60" cy="445.20" r="1.15" fill="#333"/>
<circle cx="126.80" cy="457.80" r="1.15" fill="#333"/>
<circle cx="142.60" cy="457.80" r="1.15" fill="#333"/>
<circle cx="126.80" cy="470.40" r="1.15" fill="#333"/>
<circle cx="142.60" cy="470.40" r="1.15" fill="#333"/>
<rect x="173.80" y="420.95" width="11.32" height="11.90" rx="2.8" fill="#fff" stroke="#6a6a6a" stroke-width="1.25"/>
<rect x="174.70" y="430.10" width="9.52" height="2.40" fill="#8a8a8a" />
<rect x="186.52" y="420.95" width="11.32" height="11.90" rx="2.8" fill="#fff" stroke="#6a6a6a" stroke-width="1.25"/>
<rect x="187.42" y="430.10" width="9.52" height="2.40" fill="#8a8a8a" />
<rect x="199.24" y="420.95" width="11.32" height="11.90" rx="2.8" fill="#fff" stroke="#6a6a6a" stroke-width="1.25"/>
<rect x="200.14" y="430.10" width="9.52" height="2.40" fill="#8a8a8a" />
<rect x="211.96" y="420.95" width="11.32" height="11.90" rx="2.8" fill="#fff" stroke="#6a6a6a" stroke-width="1.25"/>
<rect x="212.86" y="430.10" width="9.52" height="2.40" fill="#8a8a8a" />
<rect x="224.68" y="420.95" width="11.32" height="11.90" rx="2.8" fill="#fff" stroke="#6a6a6a" stroke-width="1.25"/>
<rect x="225.58" y="430.10" width="9.52" height="2.40" fill="#8a8a8a" />
<circle cx="173.10" cy="426.90" r="1.15" fill="#333"/>
<circle cx="185.82" cy="426.90" r="1.15" fill="#333"/>
<circle cx="198.54" cy="426.90" r="1.15" fill="#333"/>
<circle cx="211.26" cy="426.90" r="1.15" fill="#333"/>
<circle cx="223.98" cy="426.90" r="1.15" fill="#333"/>
<circle cx="236.70" cy="426.90" r="1.15" fill="#333"/>
<rect x="251.20" y="420.95" width="11.42" height="11.90" rx="2.8" fill="#fff" stroke="#6a6a6a" stroke-width="1.25"/>
<rect x="252.10" y="430.10" width="9.62" height="2.40" fill="#8a8a8a" />
<rect x="264.02" y="420.95" width="11.42" height="11.90" rx="2.8" fill="#fff" stroke="#6a6a6a" stroke-width="1.25"/>
<rect x="264.92" y="430.10" width="9.62" height="2.40" fill="#8a8a8a" />
<rect x="276.84" y="420.95" width="11.42" height="11.90" rx="2.8" fill="#fff" stroke="#6a6a6a" stroke-width="1.25"/>
<rect x="277.74" y="430.10" width="9.62" height="2.40" fill="#8a8a8a" />
<rect x="289.66" y="420.95" width="11.42" height="11.90" rx="2.8" fill="#fff" stroke="#6a6a6a" stroke-width="1.25"/>
<rect x="290.56" y="430.10" width="9.62" height="2.40" fill="#8a8a8a" />
<rect x="302.48" y="420.95" width="11.42" height="11.90" rx="2.8" fill="#fff" stroke="#6a6a6a" stroke-width="1.25"/>
<rect x="303.38" y="430.10" width="9.62" height="2.40" fill="#8a8a8a" />
<circle cx="250.50" cy="426.90" r="1.15" fill="#333"/>
<circle cx="263.32" cy="426.90" r="1.15" fill="#333"/>
<circle cx="276.14" cy="426.90" r="1.15" fill="#333"/>
<circle cx="288.96" cy="426.90" r="1.15" fill="#333"/>
<circle cx="301.78" cy="426.90" r="1.15" fill="#333"/>
<circle cx="314.60" cy="426.90" r="1.15" fill="#333"/>
<rect x="174.50" y="456.25" width="61.20" height="5.10" fill="#b0b0b0" />
<path d="M174.50 458.05H235.70M174.50 459.55H235.70" stroke="#666" stroke-width="0.8"/>
<rect x="174.00" y="446.45" width="11.32" height="10.10" rx="2.8" fill="#fff" stroke="#6a6a6a" stroke-width="1.25"/>
<rect x="174.00" y="461.05" width="11.32" height="10.10" rx="2.8" fill="#fff" stroke="#6a6a6a" stroke-width="1.25"/>
<rect x="186.72" y="446.45" width="11.32" height="10.10" rx="2.8" fill="#fff" stroke="#6a6a6a" stroke-width="1.25"/>
<rect x="186.72" y="461.05" width="11.32" height="10.10" rx="2.8" fill="#fff" stroke="#6a6a6a" stroke-width="1.25"/>
<rect x="199.44" y="446.45" width="11.32" height="10.10" rx="2.8" fill="#fff" stroke="#6a6a6a" stroke-width="1.25"/>
<rect x="199.44" y="461.05" width="11.32" height="10.10" rx="2.8" fill="#fff" stroke="#6a6a6a" stroke-width="1.25"/>
<rect x="212.16" y="446.45" width="11.32" height="10.10" rx="2.8" fill="#fff" stroke="#6a6a6a" stroke-width="1.25"/>
<rect x="212.16" y="461.05" width="11.32" height="10.10" rx="2.8" fill="#fff" stroke="#6a6a6a" stroke-width="1.25"/>
<rect x="224.88" y="446.45" width="11.32" height="10.10" rx="2.8" fill="#fff" stroke="#6a6a6a" stroke-width="1.25"/>
<rect x="224.88" y="461.05" width="11.32" height="10.10" rx="2.8" fill="#fff" stroke="#6a6a6a" stroke-width="1.25"/>
<circle cx="173.30" cy="451.48" r="1.15" fill="#333"/>
<circle cx="173.30" cy="466.12" r="1.15" fill="#333"/>
<circle cx="186.02" cy="451.48" r="1.15" fill="#333"/>
<circle cx="186.02" cy="466.12" r="1.15" fill="#333"/>
<circle cx="198.74" cy="451.48" r="1.15" fill="#333"/>
<circle cx="198.74" cy="466.12" r="1.15" fill="#333"/>
<circle cx="211.46" cy="451.48" r="1.15" fill="#333"/>
<circle cx="211.46" cy="466.12" r="1.15" fill="#333"/>
<circle cx="224.18" cy="451.48" r="1.15" fill="#333"/>
<circle cx="224.18" cy="466.12" r="1.15" fill="#333"/>
<circle cx="236.90" cy="451.48" r="1.15" fill="#333"/>
<circle cx="236.90" cy="466.12" r="1.15" fill="#333"/>
<rect x="252.00" y="456.25" width="61.70" height="5.10" fill="#b0b0b0" />
<path d="M252.00 458.05H313.70M252.00 459.55H313.70" stroke="#666" stroke-width="0.8"/>
<rect x="251.50" y="446.45" width="11.42" height="10.10" rx="2.8" fill="#fff" stroke="#6a6a6a" stroke-width="1.25"/>
<rect x="251.50" y="461.05" width="11.42" height="10.10" rx="2.8" fill="#fff" stroke="#6a6a6a" stroke-width="1.25"/>
<rect x="264.32" y="446.45" width="11.42" height="10.10" rx="2.8" fill="#fff" stroke="#6a6a6a" stroke-width="1.25"/>
<rect x="264.32" y="461.05" width="11.42" height="10.10" rx="2.8" fill="#fff" stroke="#6a6a6a" stroke-width="1.25"/>
<rect x="277.14" y="446.45" width="11.42" height="10.10" rx="2.8" fill="#fff" stroke="#6a6a6a" stroke-width="1.25"/>
<rect x="277.14" y="461.05" width="11.42" height="10.10" rx="2.8" fill="#fff" stroke="#6a6a6a" stroke-width="1.25"/>
<rect x="289.96" y="446.45" width="11.42" height="10.10" rx="2.8" fill="#fff" stroke="#6a6a6a" stroke-width="1.25"/>
<rect x="289.96" y="461.05" width="11.42" height="10.10" rx="2.8" fill="#fff" stroke="#6a6a6a" stroke-width="1.25"/>
<rect x="302.78" y="446.45" width="11.42" height="10.10" rx="2.8" fill="#fff" stroke="#6a6a6a" stroke-width="1.25"/>
<rect x="302.78" y="461.05" width="11.42" height="10.10" rx="2.8" fill="#fff" stroke="#6a6a6a" stroke-width="1.25"/>
<circle cx="250.80" cy="451.48" r="1.15" fill="#333"/>
<circle cx="250.80" cy="466.12" r="1.15" fill="#333"/>
<circle cx="263.62" cy="451.48" r="1.15" fill="#333"/>
<circle cx="263.62" cy="466.12" r="1.15" fill="#333"/>
<circle cx="276.44" cy="451.48" r="1.15" fill="#333"/>
<circle cx="276.44" cy="466.12" r="1.15" fill="#333"/>
<circle cx="289.26" cy="451.48" r="1.15" fill="#333"/>
<circle cx="289.26" cy="466.12" r="1.15" fill="#333"/>
<circle cx="302.08" cy="451.48" r="1.15" fill="#333"/>
<circle cx="302.08" cy="466.12" r="1.15" fill="#333"/>
<circle cx="314.90" cy="451.48" r="1.15" fill="#333"/>
<circle cx="314.90" cy="466.12" r="1.15" fill="#333"/>
<rect x="352.30" y="408.30" width="5.60" height="60.00" fill="#b0b0b0" />
<path d="M354.30 408.30V468.30M355.90 408.30V468.30" stroke="#777" stroke-width="0.7"/>
<rect x="342.65" y="407.80" width="9.95" height="10.60" rx="2.8" fill="#fff" stroke="#6a6a6a" stroke-width="1.25"/>
<rect x="357.60" y="407.80" width="9.95" height="10.60" rx="2.8" fill="#fff" stroke="#6a6a6a" stroke-width="1.25"/>
<rect x="342.65" y="420.40" width="9.95" height="10.60" rx="2.8" fill="#fff" stroke="#6a6a6a" stroke-width="1.25"/>
<rect x="357.60" y="420.40" width="9.95" height="10.60" rx="2.8" fill="#fff" stroke="#6a6a6a" stroke-width="1.25"/>
<rect x="342.65" y="433.00" width="9.95" height="10.60" rx="2.8" fill="#fff" stroke="#6a6a6a" stroke-width="1.25"/>
<rect x="357.60" y="433.00" width="9.95" height="10.60" rx="2.8" fill="#fff" stroke="#6a6a6a" stroke-width="1.25"/>
<rect x="342.65" y="445.60" width="9.95" height="10.60" rx="2.8" fill="#fff" stroke="#6a6a6a" stroke-width="1.25"/>
<rect x="357.60" y="445.60" width="9.95" height="10.60" rx="2.8" fill="#fff" stroke="#6a6a6a" stroke-width="1.25"/>
<rect x="342.65" y="458.20" width="9.95" height="10.60" rx="2.8" fill="#fff" stroke="#6a6a6a" stroke-width="1.25"/>
<rect x="357.60" y="458.20" width="9.95" height="10.60" rx="2.8" fill="#fff" stroke="#6a6a6a" stroke-width="1.25"/>
<circle cx="347.30" cy="406.80" r="1.15" fill="#333"/>
<circle cx="362.90" cy="406.80" r="1.15" fill="#333"/>
<circle cx="347.30" cy="419.40" r="1.15" fill="#333"/>
<circle cx="362.90" cy="419.40" r="1.15" fill="#333"/>
<circle cx="347.30" cy="432.00" r="1.15" fill="#333"/>
<circle cx="362.90" cy="432.00" r="1.15" fill="#333"/>
<circle cx="347.30" cy="444.60" r="1.15" fill="#333"/>
<circle cx="362.90" cy="444.60" r="1.15" fill="#333"/>
<circle cx="347.30" cy="457.20" r="1.15" fill="#333"/>
<circle cx="362.90" cy="457.20" r="1.15" fill="#333"/>
<circle cx="347.30" cy="469.80" r="1.15" fill="#333"/>
<circle cx="362.90" cy="469.80" r="1.15" fill="#333"/>
<rect x="400.25" y="395.80" width="12.40" height="10.60" rx="2.8" fill="#fff" stroke="#6a6a6a" stroke-width="1.25"/>
<rect x="410.70" y="397.00" width="2.00" height="8.20" fill="#8a8a8a" />
<rect x="400.25" y="408.40" width="12.40" height="10.60" rx="2.8" fill="#fff" stroke="#6a6a6a" stroke-width="1.25"/>
<rect x="410.70" y="409.60" width="2.00" height="8.20" fill="#8a8a8a" />
<rect x="400.25" y="421.00" width="12.40" height="10.60" rx="2.8" fill="#fff" stroke="#6a6a6a" stroke-width="1.25"/>
<rect x="410.70" y="422.20" width="2.00" height="8.20" fill="#8a8a8a" />
<rect x="400.25" y="433.60" width="12.40" height="10.60" rx="2.8" fill="#fff" stroke="#6a6a6a" stroke-width="1.25"/>
<rect x="410.70" y="434.80" width="2.00" height="8.20" fill="#8a8a8a" />
<rect x="400.25" y="446.20" width="12.40" height="10.60" rx="2.8" fill="#fff" stroke="#6a6a6a" stroke-width="1.25"/>
<rect x="410.70" y="447.40" width="2.00" height="8.20" fill="#8a8a8a" />
<rect x="400.25" y="458.80" width="12.40" height="10.60" rx="2.8" fill="#fff" stroke="#6a6a6a" stroke-width="1.25"/>
<rect x="410.70" y="460.00" width="2.00" height="8.20" fill="#8a8a8a" />
<circle cx="405.45" cy="394.80" r="1.15" fill="#333"/>
<circle cx="405.45" cy="407.40" r="1.15" fill="#333"/>
<circle cx="405.45" cy="420.00" r="1.15" fill="#333"/>
<circle cx="405.45" cy="432.60" r="1.15" fill="#333"/>
<circle cx="405.45" cy="445.20" r="1.15" fill="#333"/>
<circle cx="405.45" cy="457.80" r="1.15" fill="#333"/>
<circle cx="405.45" cy="470.40" r="1.15" fill="#333"/>
<rect x="783.85" y="92.00" width="12.50" height="10.58" rx="2.8" fill="#fff" stroke="#6a6a6a" stroke-width="1.25"/>
<rect x="783.80" y="93.20" width="2.00" height="8.18" fill="#8a8a8a" />
<rect x="783.85" y="104.58" width="12.50" height="10.58" rx="2.8" fill="#fff" stroke="#6a6a6a" stroke-width="1.25"/>
<rect x="783.80" y="105.78" width="2.00" height="8.18" fill="#8a8a8a" />
<rect x="783.85" y="117.16" width="12.50" height="10.58" rx="2.8" fill="#fff" stroke="#6a6a6a" stroke-width="1.25"/>
<rect x="783.80" y="118.36" width="2.00" height="8.18" fill="#8a8a8a" />
<rect x="783.85" y="129.74" width="12.50" height="10.58" rx="2.8" fill="#fff" stroke="#6a6a6a" stroke-width="1.25"/>
<rect x="783.80" y="130.94" width="2.00" height="8.18" fill="#8a8a8a" />
<rect x="783.85" y="142.32" width="12.50" height="10.58" rx="2.8" fill="#fff" stroke="#6a6a6a" stroke-width="1.25"/>
<rect x="783.80" y="143.52" width="2.00" height="8.18" fill="#8a8a8a" />
<rect x="783.85" y="154.90" width="12.50" height="10.58" rx="2.8" fill="#fff" stroke="#6a6a6a" stroke-width="1.25"/>
<rect x="783.80" y="156.10" width="2.00" height="8.18" fill="#8a8a8a" />
<rect x="783.85" y="167.48" width="12.50" height="10.58" rx="2.8" fill="#fff" stroke="#6a6a6a" stroke-width="1.25"/>
<rect x="783.80" y="168.68" width="2.00" height="8.18" fill="#8a8a8a" />
<rect x="783.85" y="180.06" width="12.50" height="10.58" rx="2.8" fill="#fff" stroke="#6a6a6a" stroke-width="1.25"/>
<rect x="783.80" y="181.26" width="2.00" height="8.18" fill="#8a8a8a" />
<rect x="783.85" y="192.64" width="12.50" height="10.58" rx="2.8" fill="#fff" stroke="#6a6a6a" stroke-width="1.25"/>
<rect x="783.80" y="193.84" width="2.00" height="8.18" fill="#8a8a8a" />
<rect x="783.85" y="205.22" width="12.50" height="10.58" rx="2.8" fill="#fff" stroke="#6a6a6a" stroke-width="1.25"/>
<rect x="783.80" y="206.42" width="2.00" height="8.18" fill="#8a8a8a" />
<rect x="783.85" y="217.80" width="12.50" height="10.58" rx="2.8" fill="#fff" stroke="#6a6a6a" stroke-width="1.25"/>
<rect x="783.80" y="219.00" width="2.00" height="8.18" fill="#8a8a8a" />
<rect x="783.85" y="230.38" width="12.50" height="10.58" rx="2.8" fill="#fff" stroke="#6a6a6a" stroke-width="1.25"/>
<rect x="783.80" y="231.58" width="2.00" height="8.18" fill="#8a8a8a" />
<rect x="783.85" y="242.96" width="12.50" height="10.58" rx="2.8" fill="#fff" stroke="#6a6a6a" stroke-width="1.25"/>
<rect x="783.80" y="244.16" width="2.00" height="8.18" fill="#8a8a8a" />
<rect x="783.85" y="255.54" width="12.50" height="10.58" rx="2.8" fill="#fff" stroke="#6a6a6a" stroke-width="1.25"/>
<rect x="783.80" y="256.74" width="2.00" height="8.18" fill="#8a8a8a" />
<rect x="783.85" y="268.12" width="12.50" height="10.58" rx="2.8" fill="#fff" stroke="#6a6a6a" stroke-width="1.25"/>
<rect x="783.80" y="269.32" width="2.00" height="8.18" fill="#8a8a8a" />
<circle cx="790.60" cy="91.00" r="1.0" fill="#333"/>
<circle cx="790.60" cy="103.58" r="1.0" fill="#333"/>
<circle cx="790.60" cy="116.16" r="1.0" fill="#333"/>
<circle cx="790.60" cy="128.74" r="1.0" fill="#333"/>
<circle cx="790.60" cy="141.32" r="1.0" fill="#333"/>
<circle cx="790.60" cy="153.90" r="1.0" fill="#333"/>
<circle cx="790.60" cy="166.48" r="1.0" fill="#333"/>
<circle cx="790.60" cy="179.06" r="1.0" fill="#333"/>
<circle cx="790.60" cy="191.64" r="1.0" fill="#333"/>
<circle cx="790.60" cy="204.22" r="1.0" fill="#333"/>
<circle cx="790.60" cy="216.80" r="1.0" fill="#333"/>
<circle cx="790.60" cy="229.38" r="1.0" fill="#333"/>
<circle cx="790.60" cy="241.96" r="1.0" fill="#333"/>
<circle cx="790.60" cy="254.54" r="1.0" fill="#333"/>
<circle cx="790.60" cy="267.12" r="1.0" fill="#333"/>
<circle cx="790.60" cy="279.70" r="1.0" fill="#333"/>
<rect x="783.85" y="376.30" width="12.50" height="10.45" rx="2.8" fill="#fff" stroke="#6a6a6a" stroke-width="1.25"/>
<rect x="783.80" y="377.50" width="2.00" height="8.05" fill="#8a8a8a" />
<rect x="783.85" y="388.75" width="12.50" height="10.45" rx="2.8" fill="#fff" stroke="#6a6a6a" stroke-width="1.25"/>
<rect x="783.80" y="389.95" width="2.00" height="8.05" fill="#8a8a8a" />
<rect x="783.85" y="401.20" width="12.50" height="10.45" rx="2.8" fill="#fff" stroke="#6a6a6a" stroke-width="1.25"/>
<rect x="783.80" y="402.40" width="2.00" height="8.05" fill="#8a8a8a" />
<rect x="783.85" y="413.65" width="12.50" height="10.45" rx="2.8" fill="#fff" stroke="#6a6a6a" stroke-width="1.25"/>
<rect x="783.80" y="414.85" width="2.00" height="8.05" fill="#8a8a8a" />
<rect x="783.85" y="426.10" width="12.50" height="10.45" rx="2.8" fill="#fff" stroke="#6a6a6a" stroke-width="1.25"/>
<rect x="783.80" y="427.30" width="2.00" height="8.05" fill="#8a8a8a" />
<rect x="783.85" y="438.55" width="12.50" height="10.45" rx="2.8" fill="#fff" stroke="#6a6a6a" stroke-width="1.25"/>
<rect x="783.80" y="439.75" width="2.00" height="8.05" fill="#8a8a8a" />
<rect x="783.85" y="451.00" width="12.50" height="10.45" rx="2.8" fill="#fff" stroke="#6a6a6a" stroke-width="1.25"/>
<rect x="783.80" y="452.20" width="2.00" height="8.05" fill="#8a8a8a" />
<rect x="783.85" y="463.45" width="12.50" height="10.45" rx="2.8" fill="#fff" stroke="#6a6a6a" stroke-width="1.25"/>
<rect x="783.80" y="464.65" width="2.00" height="8.05" fill="#8a8a8a" />
<rect x="783.85" y="475.90" width="12.50" height="10.45" rx="2.8" fill="#fff" stroke="#6a6a6a" stroke-width="1.25"/>
<rect x="783.80" y="477.10" width="2.00" height="8.05" fill="#8a8a8a" />
<circle cx="790.60" cy="375.30" r="1.0" fill="#333"/>
<circle cx="790.60" cy="387.75" r="1.0" fill="#333"/>
<circle cx="790.60" cy="400.20" r="1.0" fill="#333"/>
<circle cx="790.60" cy="412.65" r="1.0" fill="#333"/>
<circle cx="790.60" cy="425.10" r="1.0" fill="#333"/>
<circle cx="790.60" cy="437.55" r="1.0" fill="#333"/>
<circle cx="790.60" cy="450.00" r="1.0" fill="#333"/>
<circle cx="790.60" cy="462.45" r="1.0" fill="#333"/>
<circle cx="790.60" cy="474.90" r="1.0" fill="#333"/>
<circle cx="790.60" cy="487.35" r="1.0" fill="#333"/>
<rect x="127.6" y="295.1" width="312" height="1.7" fill="#444"/>
<rect x="127.6" y="365.3" width="312" height="1.8" fill="#555"/>
<rect x="131.9" y="299.6" width="303.8" height="62.6" fill="#fff" stroke="#222" stroke-width="1.4"/>
<rect x="137.4" y="300.5" width="294.9" height="3.1" rx="1.2" fill="#000"/>
<rect x="151.3" y="300.5" width="265.9" height="5.0" fill="#000"/>
<rect x="181.4" y="300.5" width="204.8" height="29.4" fill="#000"/>
<rect x="151.3" y="322.9" width="265.9" height="7.0" fill="#000"/>
<rect x="137.4" y="326.0" width="294.9" height="3.9" rx="1.2" fill="#000"/>
<rect x="183.40" y="305.50" width="5.40" height="8.80" fill="#fff" />
<rect x="183.40" y="316.10" width="5.40" height="7.40" fill="#fff" />
<rect x="190.72" y="305.50" width="5.40" height="8.80" fill="#fff" />
<rect x="190.72" y="316.10" width="5.40" height="7.40" fill="#fff" />
<rect x="198.04" y="305.50" width="5.40" height="8.80" fill="#fff" />
<rect x="198.04" y="316.10" width="5.40" height="7.40" fill="#fff" />
<rect x="205.36" y="305.50" width="5.40" height="8.80" fill="#fff" />
<rect x="205.36" y="316.10" width="5.40" height="7.40" fill="#fff" />
<rect x="212.68" y="305.50" width="5.40" height="8.80" fill="#fff" />
<rect x="212.68" y="316.10" width="5.40" height="7.40" fill="#fff" />
<rect x="220.00" y="305.50" width="5.40" height="8.80" fill="#fff" />
<rect x="220.00" y="316.10" width="5.40" height="7.40" fill="#fff" />
<rect x="227.32" y="305.50" width="5.40" height="8.80" fill="#fff" />
<rect x="227.32" y="316.10" width="5.40" height="7.40" fill="#fff" />
<rect x="234.64" y="305.50" width="5.40" height="8.80" fill="#fff" />
<rect x="234.64" y="316.10" width="5.40" height="7.40" fill="#fff" />
<rect x="241.96" y="305.50" width="5.40" height="8.80" fill="#fff" />
<rect x="241.96" y="316.10" width="5.40" height="7.40" fill="#fff" />
<rect x="249.28" y="305.50" width="5.40" height="8.80" fill="#fff" />
<rect x="249.28" y="316.10" width="5.40" height="7.40" fill="#fff" />
<rect x="256.60" y="305.50" width="5.40" height="8.80" fill="#fff" />
<rect x="256.60" y="316.10" width="5.40" height="7.40" fill="#fff" />
<rect x="263.92" y="305.50" width="5.40" height="8.80" fill="#fff" />
<rect x="263.92" y="316.10" width="5.40" height="7.40" fill="#fff" />
<rect x="271.24" y="305.50" width="5.40" height="8.80" fill="#fff" />
<rect x="271.24" y="316.10" width="5.40" height="7.40" fill="#fff" />
<rect x="278.56" y="305.50" width="5.40" height="8.80" fill="#fff" />
<rect x="278.56" y="316.10" width="5.40" height="7.40" fill="#fff" />
<rect x="285.88" y="305.50" width="5.40" height="8.80" fill="#fff" />
<rect x="285.88" y="316.10" width="5.40" height="7.40" fill="#fff" />
<rect x="293.20" y="305.50" width="5.40" height="8.80" fill="#fff" />
<rect x="293.20" y="316.10" width="5.40" height="7.40" fill="#fff" />
<rect x="300.52" y="305.50" width="5.40" height="8.80" fill="#fff" />
<rect x="300.52" y="316.10" width="5.40" height="7.40" fill="#fff" />
<rect x="307.84" y="305.50" width="5.40" height="8.80" fill="#fff" />
<rect x="307.84" y="316.10" width="5.40" height="7.40" fill="#fff" />
<rect x="315.16" y="305.50" width="5.40" height="8.80" fill="#fff" />
<rect x="315.16" y="316.10" width="5.40" height="7.40" fill="#fff" />
<rect x="322.48" y="305.50" width="5.40" height="8.80" fill="#fff" />
<rect x="322.48" y="316.10" width="5.40" height="7.40" fill="#fff" />
<rect x="329.80" y="305.50" width="5.40" height="8.80" fill="#fff" />
<rect x="329.80" y="316.10" width="5.40" height="7.40" fill="#fff" />
<rect x="337.12" y="305.50" width="5.40" height="8.80" fill="#fff" />
<rect x="337.12" y="316.10" width="5.40" height="7.40" fill="#fff" />
<rect x="344.44" y="305.50" width="5.40" height="8.80" fill="#fff" />
<rect x="344.44" y="316.10" width="5.40" height="7.40" fill="#fff" />
<rect x="351.76" y="305.50" width="5.40" height="8.80" fill="#fff" />
<rect x="351.76" y="316.10" width="5.40" height="7.40" fill="#fff" />
<rect x="359.08" y="305.50" width="5.40" height="8.80" fill="#fff" />
<rect x="359.08" y="316.10" width="5.40" height="7.40" fill="#fff" />
<rect x="366.40" y="305.50" width="5.40" height="8.80" fill="#fff" />
<rect x="366.40" y="316.10" width="5.40" height="7.40" fill="#fff" />
<rect x="373.72" y="305.50" width="5.40" height="8.80" fill="#fff" />
<rect x="373.72" y="316.10" width="5.40" height="7.40" fill="#fff" />
<rect x="381.04" y="305.50" width="5.40" height="8.80" fill="#fff" />
<rect x="381.04" y="316.10" width="5.40" height="7.40" fill="#fff" />
<path d="M278.8 305.5L286.6 323.5" stroke="#333" stroke-width="1.6"/>
<path d="M282.3 305.5L290 323.5" stroke="#aaa" stroke-width="0.8"/>
<rect x="131.9" y="330.3" width="303.8" height="1.9" fill="#666"/>
<rect x="137.4" y="332.2" width="294.9" height="3.1" rx="1.2" fill="#000"/>
<rect x="151.3" y="332.2" width="265.9" height="5.0" fill="#000"/>
<rect x="181.4" y="332.2" width="204.8" height="29.4" fill="#000"/>
<rect x="151.3" y="354.59999999999997" width="265.9" height="7.0" fill="#000"/>
<rect x="137.4" y="357.7" width="294.9" height="3.9" rx="1.2" fill="#000"/>
<rect x="183.40" y="337.20" width="5.40" height="8.80" fill="#fff" />
<rect x="183.40" y="347.80" width="5.40" height="7.40" fill="#fff" />
<rect x="190.72" y="337.20" width="5.40" height="8.80" fill="#fff" />
<rect x="190.72" y="347.80" width="5.40" height="7.40" fill="#fff" />
<rect x="198.04" y="337.20" width="5.40" height="8.80" fill="#fff" />
<rect x="198.04" y="347.80" width="5.40" height="7.40" fill="#fff" />
<rect x="205.36" y="337.20" width="5.40" height="8.80" fill="#fff" />
<rect x="205.36" y="347.80" width="5.40" height="7.40" fill="#fff" />
<rect x="212.68" y="337.20" width="5.40" height="8.80" fill="#fff" />
<rect x="212.68" y="347.80" width="5.40" height="7.40" fill="#fff" />
<rect x="220.00" y="337.20" width="5.40" height="8.80" fill="#fff" />
<rect x="220.00" y="347.80" width="5.40" height="7.40" fill="#fff" />
<rect x="227.32" y="337.20" width="5.40" height="8.80" fill="#fff" />
<rect x="227.32" y="347.80" width="5.40" height="7.40" fill="#fff" />
<rect x="234.64" y="337.20" width="5.40" height="8.80" fill="#fff" />
<rect x="234.64" y="347.80" width="5.40" height="7.40" fill="#fff" />
<rect x="241.96" y="337.20" width="5.40" height="8.80" fill="#fff" />
<rect x="241.96" y="347.80" width="5.40" height="7.40" fill="#fff" />
<rect x="249.28" y="337.20" width="5.40" height="8.80" fill="#fff" />
<rect x="249.28" y="347.80" width="5.40" height="7.40" fill="#fff" />
<rect x="256.60" y="337.20" width="5.40" height="8.80" fill="#fff" />
<rect x="256.60" y="347.80" width="5.40" height="7.40" fill="#fff" />
<rect x="263.92" y="337.20" width="5.40" height="8.80" fill="#fff" />
<rect x="263.92" y="347.80" width="5.40" height="7.40" fill="#fff" />
<rect x="271.24" y="337.20" width="5.40" height="8.80" fill="#fff" />
<rect x="271.24" y="347.80" width="5.40" height="7.40" fill="#fff" />
<rect x="278.56" y="337.20" width="5.40" height="8.80" fill="#fff" />
<rect x="278.56" y="347.80" width="5.40" height="7.40" fill="#fff" />
<rect x="285.88" y="337.20" width="5.40" height="8.80" fill="#fff" />
<rect x="285.88" y="347.80" width="5.40" height="7.40" fill="#fff" />
<rect x="293.20" y="337.20" width="5.40" height="8.80" fill="#fff" />
<rect x="293.20" y="347.80" width="5.40" height="7.40" fill="#fff" />
<rect x="300.52" y="337.20" width="5.40" height="8.80" fill="#fff" />
<rect x="300.52" y="347.80" width="5.40" height="7.40" fill="#fff" />
<rect x="307.84" y="337.20" width="5.40" height="8.80" fill="#fff" />
<rect x="307.84" y="347.80" width="5.40" height="7.40" fill="#fff" />
<rect x="315.16" y="337.20" width="5.40" height="8.80" fill="#fff" />
<rect x="315.16" y="347.80" width="5.40" height="7.40" fill="#fff" />
<rect x="322.48" y="337.20" width="5.40" height="8.80" fill="#fff" />
<rect x="322.48" y="347.80" width="5.40" height="7.40" fill="#fff" />
<rect x="329.80" y="337.20" width="5.40" height="8.80" fill="#fff" />
<rect x="329.80" y="347.80" width="5.40" height="7.40" fill="#fff" />
<rect x="337.12" y="337.20" width="5.40" height="8.80" fill="#fff" />
<rect x="337.12" y="347.80" width="5.40" height="7.40" fill="#fff" />
<rect x="344.44" y="337.20" width="5.40" height="8.80" fill="#fff" />
<rect x="344.44" y="347.80" width="5.40" height="7.40" fill="#fff" />
<rect x="351.76" y="337.20" width="5.40" height="8.80" fill="#fff" />
<rect x="351.76" y="347.80" width="5.40" height="7.40" fill="#fff" />
<rect x="359.08" y="337.20" width="5.40" height="8.80" fill="#fff" />
<rect x="359.08" y="347.80" width="5.40" height="7.40" fill="#fff" />
<rect x="366.40" y="337.20" width="5.40" height="8.80" fill="#fff" />
<rect x="366.40" y="347.80" width="5.40" height="7.40" fill="#fff" />
<rect x="373.72" y="337.20" width="5.40" height="8.80" fill="#fff" />
<rect x="373.72" y="347.80" width="5.40" height="7.40" fill="#fff" />
<rect x="381.04" y="337.20" width="5.40" height="8.80" fill="#fff" />
<rect x="381.04" y="347.80" width="5.40" height="7.40" fill="#fff" />
<path d="M278.8 337.2L286.6 355.2" stroke="#333" stroke-width="1.6"/>
<path d="M282.3 337.2L290 355.2" stroke="#aaa" stroke-width="0.8"/>
<path d="M153.6 311.5H164.655V308.3L173.7 314.8L164.655 321.3V318.1H153.6Z" fill="#3aaee0" stroke="#2a7fa8" stroke-width="0.9"/>
<path d="M174.4 344.5H163.07000000000002V341.3L153.8 347.8L163.07000000000002 354.3V351.1H174.4Z" fill="#3aaee0" stroke="#2a7fa8" stroke-width="0.9"/>
<path d="M414.5 311.8H403.665V308.6L394.8 315.1L403.665 321.6V318.40000000000003H414.5Z" fill="#f5b400" stroke="#b88a00" stroke-width="0.9"/>
<path d="M394.1 344.4H405.32V341.2L414.5 347.7L405.32 354.2V351.0H394.1Z" fill="#f5b400" stroke="#b88a00" stroke-width="0.9"/>
<rect x="178.60" y="189.80" width="28.20" height="29.10" rx="2.2" fill="#fff" stroke="#6e6e6e" stroke-width="1.3"/>
<rect x="182.10" y="193.50" width="20.90" height="21.20" fill="#fff" stroke="#4a4a4a" stroke-width="1.3"/>
<path d="M182.10 193.50L203.00 214.70M203.00 193.50L182.10 214.70" stroke="#4a4a4a" stroke-width="1.1"/>
<rect x="271.40" y="189.80" width="28.20" height="29.10" rx="2.2" fill="#fff" stroke="#6e6e6e" stroke-width="1.3"/>
<rect x="274.90" y="193.50" width="20.90" height="21.20" fill="#fff" stroke="#4a4a4a" stroke-width="1.3"/>
<path d="M274.90 193.50L295.80 214.70M295.80 193.50L274.90 214.70" stroke="#4a4a4a" stroke-width="1.1"/>
<rect x="178.20" y="376.80" width="28.80" height="29.40" rx="2.2" fill="#fff" stroke="#6e6e6e" stroke-width="1.3"/>
<rect x="181.70" y="380.50" width="21.50" height="21.50" fill="#fff" stroke="#4a4a4a" stroke-width="1.3"/>
<path d="M181.70 380.50L203.20 402.00M203.20 380.50L181.70 402.00" stroke="#4a4a4a" stroke-width="1.1"/>
<rect x="271.80" y="377.00" width="27.80" height="28.80" rx="2.2" fill="#fff" stroke="#6e6e6e" stroke-width="1.3"/>
<rect x="275.30" y="380.70" width="20.50" height="20.90" fill="#fff" stroke="#4a4a4a" stroke-width="1.3"/>
<path d="M275.30 380.70L295.80 401.60M295.80 380.70L275.30 401.60" stroke="#4a4a4a" stroke-width="1.1"/>
<rect x="182.00" y="221.00" width="21.30" height="2.40" fill="#7030a0" />
<rect x="275.20" y="221.00" width="21.30" height="2.40" fill="#7030a0" />
<rect x="29.00" y="28.60" width="32.40" height="4.40" fill="#078b3e" />
<rect x="275.50" y="29.30" width="20.70" height="3.50" fill="#078b3e" />
<rect x="369.90" y="29.30" width="20.70" height="3.50" fill="#078b3e" />
<rect x="462.60" y="29.30" width="20.70" height="3.50" fill="#078b3e" />
<rect x="494.90" y="28.60" width="51.30" height="4.40" fill="#078b3e" />
<rect x="18.90" y="213.40" width="4.50" height="59.30" fill="#078b3e" />
<rect x="18.90" y="356.70" width="4.50" height="58.60" fill="#078b3e" />
<rect x="25.00" y="562.00" width="50.50" height="4.30" fill="#078b3e" />
<rect x="179.30" y="562.20" width="21.50" height="4.10" fill="#078b3e" />
<rect x="274.70" y="562.00" width="21.30" height="4.30" fill="#078b3e" />
<rect x="369.20" y="562.00" width="22.40" height="4.30" fill="#078b3e" />
<rect x="462.00" y="562.00" width="21.00" height="4.30" fill="#078b3e" />
<rect x="206.60" y="577.30" width="61.70" height="4.30" fill="#078b3e" />
<rect x="887.00" y="228.60" width="4.60" height="58.70" fill="#078b3e" />
<rect x="887.00" y="366.70" width="4.60" height="74.80" fill="#078b3e" />
<rect x="174.10" y="189.70" width="2.70" height="28.30" fill="#078b3e" />
<rect x="208.60" y="189.70" width="2.60" height="28.30" fill="#078b3e" />
<rect x="266.80" y="189.70" width="2.70" height="28.30" fill="#078b3e" />
<rect x="301.30" y="189.70" width="2.70" height="28.30" fill="#078b3e" />
<rect x="208.90" y="376.20" width="2.70" height="28.20" fill="#078b3e" />
<rect x="266.80" y="376.20" width="2.80" height="28.80" fill="#078b3e" />
<rect x="301.60" y="376.20" width="2.80" height="28.80" fill="#078b3e" />
<rect x="18.90" y="284.40" width="4.50" height="59.60" fill="#f20f0f" />
<path d="M683.90 269.40C686.47 269.47 692.45 269.23 699.30 269.80C706.15 270.37 715.83 271.17 725.00 272.80C734.17 274.43 749.42 278.47 754.30 279.60" fill="none" stroke="#078b3e" stroke-width="3"/>
<path d="M607.3 377.7L625.8 380.4M629.1 379.7L647.6 382.1" fill="none" stroke="#078b3e" stroke-width="3"/>
<path d="M185.8 596V568.7H285.5V596" fill="none" stroke="#c00000" stroke-width="5.8"/>
<rect x="25.00" y="48.80" width="80.40" height="12.00" rx="6.00" fill="#fff" stroke="#6fa684" stroke-width="1.2"/>
<text x="65.20" y="58.80" text-anchor="middle" font-family='"Liberation Sans", sans-serif' font-size="11" fill="#8f9c92" textLength="72.0" lengthAdjust="spacingAndGlyphs">292 x 142 cm</text>
<rect x="244.60" y="48.80" width="80.80" height="12.00" rx="6.00" fill="#fff" stroke="#6fa684" stroke-width="1.2"/>
<text x="285.00" y="58.80" text-anchor="middle" font-family='"Liberation Sans", sans-serif' font-size="11" fill="#8f9c92" textLength="66.0" lengthAdjust="spacingAndGlyphs">98 x 185 cm</text>
<rect x="386.20" y="48.80" width="80.80" height="12.00" rx="6.00" fill="#fff" stroke="#6fa684" stroke-width="1.2"/>
<text x="426.60" y="58.80" text-anchor="middle" font-family='"Liberation Sans", sans-serif' font-size="11" fill="#8f9c92" textLength="66.0" lengthAdjust="spacingAndGlyphs">98 x 185 cm</text>
<rect x="499.60" y="48.80" width="81.10" height="12.00" rx="6.00" fill="#fff" stroke="#6fa684" stroke-width="1.2"/>
<text x="540.15" y="58.80" text-anchor="middle" font-family='"Liberation Sans", sans-serif' font-size="11" fill="#8f9c92" textLength="72.0" lengthAdjust="spacingAndGlyphs">217 x 142 cm</text>
<rect x="24.90" y="245.00" width="82.50" height="11.90" rx="5.95" fill="#fff" stroke="#6fa684" stroke-width="1.2"/>
<text x="66.15" y="254.90" text-anchor="middle" font-family='"Liberation Sans", sans-serif' font-size="11" fill="#8f9c92" textLength="72.0" lengthAdjust="spacingAndGlyphs">367 x 142 cm</text>
<rect x="24.90" y="386.60" width="82.50" height="12.80" rx="6.40" fill="#fff" stroke="#6fa684" stroke-width="1.2"/>
<text x="66.15" y="397.40" text-anchor="middle" font-family='"Liberation Sans", sans-serif' font-size="11" fill="#8f9c92" textLength="72.0" lengthAdjust="spacingAndGlyphs">292 x 142 cm</text>
<rect x="24.70" y="534.90" width="81.60" height="12.00" rx="6.00" fill="#fff" stroke="#6fa684" stroke-width="1.2"/>
<text x="65.50" y="544.90" text-anchor="middle" font-family='"Liberation Sans", sans-serif' font-size="11" fill="#8f9c92" textLength="72.0" lengthAdjust="spacingAndGlyphs">292 x 142 cm</text>
<rect x="148.90" y="534.40" width="81.50" height="12.00" rx="6.00" fill="#fff" stroke="#6fa684" stroke-width="1.2"/>
<text x="189.65" y="544.40" text-anchor="middle" font-family='"Liberation Sans", sans-serif' font-size="11" fill="#8f9c92" textLength="66.0" lengthAdjust="spacingAndGlyphs">98 x 185 cm</text>
<rect x="292.00" y="534.40" width="81.60" height="12.00" rx="6.00" fill="#fff" stroke="#6fa684" stroke-width="1.2"/>
<text x="332.80" y="544.40" text-anchor="middle" font-family='"Liberation Sans", sans-serif' font-size="11" fill="#8f9c92" textLength="66.0" lengthAdjust="spacingAndGlyphs">98 x 185 cm</text>
<rect x="431.50" y="534.60" width="81.60" height="11.50" rx="5.75" fill="#fff" stroke="#6fa684" stroke-width="1.2"/>
<text x="472.30" y="544.10" text-anchor="middle" font-family='"Liberation Sans", sans-serif' font-size="11" fill="#8f9c92" textLength="66.0" lengthAdjust="spacingAndGlyphs">98 x 185 cm</text>
<rect x="194.20" y="160.10" width="87.90" height="11.60" rx="5.80" fill="#fff" stroke="#6fa684" stroke-width="1.2"/>
<text x="238.15" y="169.70" text-anchor="middle" font-family='"Liberation Sans", sans-serif' font-size="11" fill="#8f9c92" textLength="74.5" lengthAdjust="spacingAndGlyphs">89 x 207.5 cm</text>
<rect x="214.10" y="422.80" width="90.70" height="11.00" rx="5.50" fill="#fff" stroke="#6fa684" stroke-width="1.2"/>
<text x="259.45" y="431.80" text-anchor="middle" font-family='"Liberation Sans", sans-serif' font-size="11" fill="#8f9c92" textLength="83.0" lengthAdjust="spacingAndGlyphs">66.5 x 207.5 cm</text>
<rect x="709.40" y="299.40" width="80.80" height="12.00" rx="6.00" fill="#fff" stroke="#6fa684" stroke-width="1.2"/>
<text x="749.80" y="309.40" text-anchor="middle" font-family='"Liberation Sans", sans-serif' font-size="11" fill="#8f9c92" textLength="66.0" lengthAdjust="spacingAndGlyphs">280 x 82 cm</text>
<rect x="568.10" y="347.20" width="80.90" height="10.70" rx="5.35" fill="#fff" stroke="#6fa684" stroke-width="1.2"/>
<text x="608.55" y="355.90" text-anchor="middle" font-family='"Liberation Sans", sans-serif' font-size="11" fill="#8f9c92" textLength="66.0" lengthAdjust="spacingAndGlyphs">86 x 188 cm</text>
<rect x="804.20" y="262.60" width="80.60" height="11.30" rx="5.65" fill="#fff" stroke="#6fa684" stroke-width="1.2"/>
<text x="844.50" y="271.90" text-anchor="middle" font-family='"Liberation Sans", sans-serif' font-size="11" fill="#8f9c92" textLength="72.0" lengthAdjust="spacingAndGlyphs">292 x 142 cm</text>
<rect x="804.20" y="404.60" width="81.20" height="11.80" rx="5.90" fill="#fff" stroke="#6fa684" stroke-width="1.2"/>
<text x="844.80" y="414.40" text-anchor="middle" font-family='"Liberation Sans", sans-serif' font-size="11" fill="#8f9c92" textLength="72.0" lengthAdjust="spacingAndGlyphs">392 x 142 cm</text>
<rect x="24.90" y="314.30" width="82.50" height="12.50" rx="6.25" fill="#fff" stroke="#f08080" stroke-width="1.2"/>
<text x="66.15" y="324.80" text-anchor="middle" font-family='"Liberation Sans", sans-serif' font-size="11" fill="#e06a6a" textLength="72.0" lengthAdjust="spacingAndGlyphs">342 x 142 cm</text>
<rect x="25.00" y="35.00" width="40.30" height="13.70" rx="6.85" fill="#078b3e" stroke="#9ef0c0" stroke-width="0.6"/>
<text x="45.15" y="46.70" text-anchor="middle" font-family='"Liberation Sans", sans-serif' font-size="12" fill="#d0f7de" textLength="26.4" lengthAdjust="spacingAndGlyphs">A2-4</text>
<rect x="264.80" y="35.80" width="40.50" height="12.40" rx="6.20" fill="#078b3e" stroke="#9ef0c0" stroke-width="0.6"/>
<text x="285.05" y="46.20" text-anchor="middle" font-family='"Liberation Sans", sans-serif' font-size="12" fill="#d0f7de" textLength="26.4" lengthAdjust="spacingAndGlyphs">A2-5</text>
<rect x="360.80" y="35.80" width="38.90" height="12.40" rx="6.20" fill="#078b3e" stroke="#9ef0c0" stroke-width="0.6"/>
<text x="380.25" y="46.20" text-anchor="middle" font-family='"Liberation Sans", sans-serif' font-size="12" fill="#d0f7de" textLength="26.4" lengthAdjust="spacingAndGlyphs">A2-6</text>
<rect x="453.50" y="35.80" width="39.70" height="12.40" rx="6.20" fill="#078b3e" stroke="#9ef0c0" stroke-width="0.6"/>
<text x="473.35" y="46.20" text-anchor="middle" font-family='"Liberation Sans", sans-serif' font-size="12" fill="#d0f7de" textLength="26.4" lengthAdjust="spacingAndGlyphs">A2-7</text>
<rect x="499.90" y="35.80" width="40.50" height="12.40" rx="6.20" fill="#078b3e" stroke="#9ef0c0" stroke-width="0.6"/>
<text x="520.15" y="46.20" text-anchor="middle" font-family='"Liberation Sans", sans-serif' font-size="12" fill="#d0f7de" textLength="26.4" lengthAdjust="spacingAndGlyphs">A2-8</text>
<rect x="24.30" y="230.00" width="41.00" height="13.80" rx="6.90" fill="#078b3e" stroke="#9ef0c0" stroke-width="0.6"/>
<text x="44.80" y="241.80" text-anchor="middle" font-family='"Liberation Sans", sans-serif' font-size="12" fill="#d0f7de" textLength="26.4" lengthAdjust="spacingAndGlyphs">A2-3</text>
<rect x="24.30" y="373.70" width="41.00" height="12.20" rx="6.10" fill="#078b3e" stroke="#9ef0c0" stroke-width="0.6"/>
<text x="44.80" y="383.90" text-anchor="middle" font-family='"Liberation Sans", sans-serif' font-size="12" fill="#d0f7de" textLength="26.4" lengthAdjust="spacingAndGlyphs">A2-1</text>
<rect x="25.00" y="547.90" width="40.50" height="12.40" rx="6.20" fill="#078b3e" stroke="#9ef0c0" stroke-width="0.6"/>
<text x="45.25" y="558.30" text-anchor="middle" font-family='"Liberation Sans", sans-serif' font-size="12" fill="#d0f7de" textLength="33.0" lengthAdjust="spacingAndGlyphs">A2-17</text>
<rect x="169.80" y="547.00" width="40.60" height="13.30" rx="6.65" fill="#078b3e" stroke="#9ef0c0" stroke-width="0.6"/>
<text x="190.10" y="558.30" text-anchor="middle" font-family='"Liberation Sans", sans-serif' font-size="12" fill="#d0f7de" textLength="33.0" lengthAdjust="spacingAndGlyphs">A2-16</text>
<rect x="265.80" y="547.00" width="39.70" height="13.30" rx="6.65" fill="#078b3e" stroke="#9ef0c0" stroke-width="0.6"/>
<text x="285.65" y="558.30" text-anchor="middle" font-family='"Liberation Sans", sans-serif' font-size="12" fill="#d0f7de" textLength="33.0" lengthAdjust="spacingAndGlyphs">A2-14</text>
<rect x="360.10" y="547.00" width="39.80" height="13.30" rx="6.65" fill="#078b3e" stroke="#9ef0c0" stroke-width="0.6"/>
<text x="380.00" y="558.30" text-anchor="middle" font-family='"Liberation Sans", sans-serif' font-size="12" fill="#d0f7de" textLength="33.0" lengthAdjust="spacingAndGlyphs">A2-13</text>
<rect x="452.00" y="546.70" width="41.00" height="12.30" rx="6.15" fill="#078b3e" stroke="#9ef0c0" stroke-width="0.6"/>
<text x="472.50" y="557.00" text-anchor="middle" font-family='"Liberation Sans", sans-serif' font-size="12" fill="#d0f7de" textLength="33.0" lengthAdjust="spacingAndGlyphs">A2-12</text>
<rect x="217.00" y="583.00" width="39.80" height="13.00" rx="6.50" fill="#078b3e" stroke="#9ef0c0" stroke-width="0.6"/>
<text x="236.90" y="594.00" text-anchor="middle" font-family='"Liberation Sans", sans-serif' font-size="12" fill="#d0f7de" textLength="33.0" lengthAdjust="spacingAndGlyphs">A2-15</text>
<rect x="149.70" y="172.60" width="38.90" height="12.70" rx="6.35" fill="#078b3e" stroke="#9ef0c0" stroke-width="0.6"/>
<text x="169.15" y="183.30" text-anchor="middle" font-family='"Liberation Sans", sans-serif' font-size="12" fill="#d0f7de" textLength="33.0" lengthAdjust="spacingAndGlyphs">A2-21</text>
<rect x="192.70" y="173.00" width="39.70" height="12.30" rx="6.15" fill="#078b3e" stroke="#9ef0c0" stroke-width="0.6"/>
<text x="212.55" y="183.30" text-anchor="middle" font-family='"Liberation Sans", sans-serif' font-size="12" fill="#d0f7de" textLength="33.0" lengthAdjust="spacingAndGlyphs">A2-22</text>
<rect x="243.00" y="172.60" width="39.70" height="12.90" rx="6.45" fill="#078b3e" stroke="#9ef0c0" stroke-width="0.6"/>
<text x="262.85" y="183.50" text-anchor="middle" font-family='"Liberation Sans", sans-serif' font-size="12" fill="#d0f7de" textLength="33.0" lengthAdjust="spacingAndGlyphs">A2-23</text>
<rect x="286.70" y="172.60" width="40.70" height="12.90" rx="6.45" fill="#078b3e" stroke="#9ef0c0" stroke-width="0.6"/>
<text x="307.05" y="183.50" text-anchor="middle" font-family='"Liberation Sans", sans-serif' font-size="12" fill="#d0f7de" textLength="33.0" lengthAdjust="spacingAndGlyphs">A2-24</text>
<rect x="193.80" y="409.00" width="39.40" height="12.30" rx="6.15" fill="#078b3e" stroke="#9ef0c0" stroke-width="0.6"/>
<text x="213.50" y="419.30" text-anchor="middle" font-family='"Liberation Sans", sans-serif' font-size="12" fill="#d0f7de" textLength="33.0" lengthAdjust="spacingAndGlyphs">A2-18</text>
<rect x="238.80" y="408.70" width="40.30" height="12.00" rx="6.00" fill="#078b3e" stroke="#9ef0c0" stroke-width="0.6"/>
<text x="258.95" y="418.70" text-anchor="middle" font-family='"Liberation Sans", sans-serif' font-size="12" fill="#d0f7de" textLength="33.0" lengthAdjust="spacingAndGlyphs">A2-19</text>
<rect x="284.70" y="408.70" width="40.40" height="12.00" rx="6.00" fill="#078b3e" stroke="#9ef0c0" stroke-width="0.6"/>
<text x="304.90" y="418.70" text-anchor="middle" font-family='"Liberation Sans", sans-serif' font-size="12" fill="#d0f7de" textLength="33.0" lengthAdjust="spacingAndGlyphs">A2-20</text>
<rect x="708.80" y="286.40" width="40.60" height="12.40" rx="6.20" fill="#078b3e" stroke="#9ef0c0" stroke-width="0.6"/>
<text x="729.10" y="296.80" text-anchor="middle" font-family='"Liberation Sans", sans-serif' font-size="12" fill="#d0f7de" textLength="33.0" lengthAdjust="spacingAndGlyphs">A2-36</text>
<rect x="567.50" y="359.90" width="39.80" height="13.20" rx="6.60" fill="#078b3e" stroke="#9ef0c0" stroke-width="0.6"/>
<text x="587.40" y="371.10" text-anchor="middle" font-family='"Liberation Sans", sans-serif' font-size="12" fill="#d0f7de" textLength="33.0" lengthAdjust="spacingAndGlyphs">A2-37</text>
<rect x="609.20" y="359.90" width="40.40" height="13.20" rx="6.60" fill="#078b3e" stroke="#9ef0c0" stroke-width="0.6"/>
<text x="629.40" y="371.10" text-anchor="middle" font-family='"Liberation Sans", sans-serif' font-size="12" fill="#d0f7de" textLength="33.0" lengthAdjust="spacingAndGlyphs">A2-38</text>
<rect x="845.30" y="249.30" width="41.00" height="12.70" rx="6.35" fill="#078b3e" stroke="#9ef0c0" stroke-width="0.6"/>
<text x="865.80" y="260.00" text-anchor="middle" font-family='"Liberation Sans", sans-serif' font-size="12" fill="#d0f7de" textLength="33.0" lengthAdjust="spacingAndGlyphs">A2-10</text>
<rect x="845.30" y="392.00" width="41.00" height="12.50" rx="6.25" fill="#078b3e" stroke="#9ef0c0" stroke-width="0.6"/>
<text x="865.80" y="402.50" text-anchor="middle" font-family='"Liberation Sans", sans-serif' font-size="12" fill="#d0f7de" textLength="33.0" lengthAdjust="spacingAndGlyphs">A2-11</text>
<rect x="24.30" y="301.60" width="41.00" height="12.10" rx="6.05" fill="#f20f0f" stroke="#9ef0c0" stroke-width="0.6"/>
<text x="44.80" y="311.70" text-anchor="middle" font-family='"Liberation Sans", sans-serif' font-size="12" fill="#d0f7de" textLength="26.4" lengthAdjust="spacingAndGlyphs">A2-2</text>
<path transform="translate(171.20,225.40) scale(0.740,0.790)" d="M0.5 0.4H6V3.6H0.5ZM0.5 2H6M0 4.6H6.6M1 5.4H5.6V7.4H1ZM3.3 7.4V9.9M1.2 8.4L0.4 9.6M5.4 8.4L6.2 9.6M9.5 0.4L7 2.8M9.7 3.4L7 6M9.9 6.4L6.8 9.9" fill="none" stroke="#7a40b0" stroke-width="0.95" vector-effect="non-scaling-stroke"/>
<path transform="translate(180.00,225.40) scale(0.740,0.790)" d="M5 0V1.2M1.5 1.6H8.5M3 2.2L3.8 3.6M7 2.2L6.2 3.6M0.3 4.1H9.7M2 5.1H8V9.8H2ZM2 7.4H8" fill="none" stroke="#7a40b0" stroke-width="0.95" vector-effect="non-scaling-stroke"/>
<path transform="translate(188.80,225.40) scale(0.740,0.790)" d="M5 0L2 3M3.5 1.5H7.5L3 5.6M4 2.9L5.6 3.9M6.2 4.4L2 8M4 6H8.6L2.4 10M4.5 7.4L6.2 8.6" fill="none" stroke="#7a40b0" stroke-width="0.95" vector-effect="non-scaling-stroke"/>
<path transform="translate(197.60,225.40) scale(0.740,0.790)" d="M2.2 0.3L1 5L3.8 9.6M3.4 3L0.4 9.6M0 3.6H4.2M4.6 1.2H9.8M5.8 0V4.6M8.6 0V4.6M5.8 2.9H8.6M5.8 4.6H8.6M4.6 6H9.8M7.2 4.6V10M7 6.6L4.6 9.6M7.4 6.6L9.8 9.6" fill="none" stroke="#7a40b0" stroke-width="0.95" vector-effect="non-scaling-stroke"/>
<path transform="translate(206.40,225.40) scale(0.740,0.790)" d="M0.5 0.3H4V3H0.5ZM0 4H4.5M0.8 4.8H3.8V10H0.8ZM0.8 6.5H3.8M0.8 8.2H3.8M5.3 0.3H9.7V3.8H5.3ZM6.8 0.3V3.8M8.3 0.3V3.8M5 5H10M6 6H9V8H6ZM6.6 8L6 9.8M8.4 8L9 9.8M5 9.9H10" fill="none" stroke="#7a40b0" stroke-width="0.95" vector-effect="non-scaling-stroke"/>
<path transform="translate(264.40,225.40) scale(0.740,0.790)" d="M0.5 0.4H6V3.6H0.5ZM0.5 2H6M0 4.6H6.6M1 5.4H5.6V7.4H1ZM3.3 7.4V9.9M1.2 8.4L0.4 9.6M5.4 8.4L6.2 9.6M9.5 0.4L7 2.8M9.7 3.4L7 6M9.9 6.4L6.8 9.9" fill="none" stroke="#7a40b0" stroke-width="0.95" vector-effect="non-scaling-stroke"/>
<path transform="translate(273.20,225.40) scale(0.740,0.790)" d="M5 0V1.2M1.5 1.6H8.5M3 2.2L3.8 3.6M7 2.2L6.2 3.6M0.3 4.1H9.7M2 5.1H8V9.8H2ZM2 7.4H8" fill="none" stroke="#7a40b0" stroke-width="0.95" vector-effect="non-scaling-stroke"/>
<path transform="translate(282.00,225.40) scale(0.740,0.790)" d="M5 0L2 3M3.5 1.5H7.5L3 5.6M4 2.9L5.6 3.9M6.2 4.4L2 8M4 6H8.6L2.4 10M4.5 7.4L6.2 8.6" fill="none" stroke="#7a40b0" stroke-width="0.95" vector-effect="non-scaling-stroke"/>
<path transform="translate(290.80,225.40) scale(0.740,0.790)" d="M2.2 0.3L1 5L3.8 9.6M3.4 3L0.4 9.6M0 3.6H4.2M4.6 1.2H9.8M5.8 0V4.6M8.6 0V4.6M5.8 2.9H8.6M5.8 4.6H8.6M4.6 6H9.8M7.2 4.6V10M7 6.6L4.6 9.6M7.4 6.6L9.8 9.6" fill="none" stroke="#7a40b0" stroke-width="0.95" vector-effect="non-scaling-stroke"/>
<path transform="translate(299.60,225.40) scale(0.740,0.790)" d="M0.5 0.3H4V3H0.5ZM0 4H4.5M0.8 4.8H3.8V10H0.8ZM0.8 6.5H3.8M0.8 8.2H3.8M5.3 0.3H9.7V3.8H5.3ZM6.8 0.3V3.8M8.3 0.3V3.8M5 5H10M6 6H9V8H6ZM6.6 8L6 9.8M8.4 8L9 9.8M5 9.9H10" fill="none" stroke="#7a40b0" stroke-width="0.95" vector-effect="non-scaling-stroke"/>
</svg>
</body></html>
